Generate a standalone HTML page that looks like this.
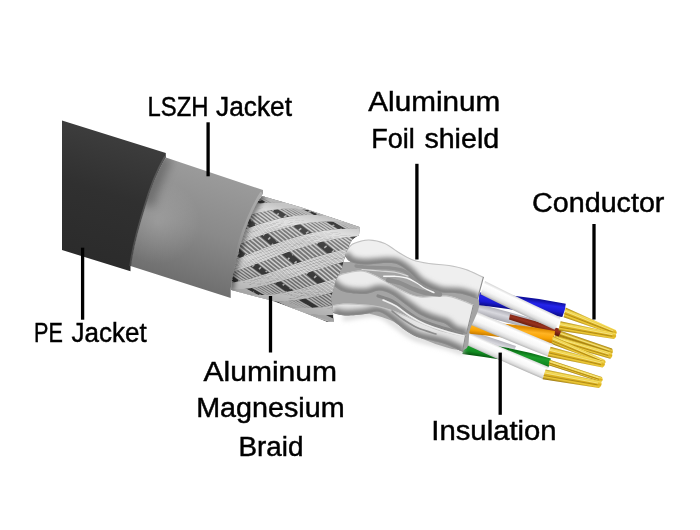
<!DOCTYPE html>
<html><head><meta charset="utf-8"><title>Cable structure</title>
<style>
html,body{margin:0;padding:0;background:#fff;}
body{width:700px;height:530px;overflow:hidden;font-family:"Liberation Sans",sans-serif;}
svg{display:block}
</style></head><body>
<svg width="700" height="530" viewBox="0 0 700 530">
<defs>
<linearGradient id="gPE" gradientUnits="userSpaceOnUse" x1="100" y1="130" x2="62" y2="255">
<stop offset="0" stop-color="#3d3d3d"/><stop offset="0.45" stop-color="#303030"/><stop offset="1" stop-color="#2b2b2b"/></linearGradient>
<linearGradient id="gLS" gradientUnits="userSpaceOnUse" x1="225" y1="172" x2="185" y2="290">
<stop offset="0" stop-color="#9c9c9c"/><stop offset="0.5" stop-color="#8a8a8a"/><stop offset="1" stop-color="#6c6c6c"/></linearGradient>
<linearGradient id="gs1" gradientUnits="userSpaceOnUse" x1="585.0" y1="339.0" x2="582.7" y2="345.7"><stop offset="0" stop-color="#a07c0e"/><stop offset="0.3" stop-color="#e8c840"/><stop offset="0.6" stop-color="#c8a018"/><stop offset="1" stop-color="#806008"/></linearGradient>
<linearGradient id="gs2" gradientUnits="userSpaceOnUse" x1="583.9" y1="343.4" x2="581.7" y2="351.0"><stop offset="0" stop-color="#b08a10"/><stop offset="0.22" stop-color="#f6de5c"/><stop offset="0.5" stop-color="#dcb01c"/><stop offset="0.75" stop-color="#ecc838"/><stop offset="1" stop-color="#94700a"/></linearGradient>
<linearGradient id="gw3" gradientUnits="userSpaceOnUse" x1="507.4" y1="312.1" x2="504.6" y2="322.4"><stop offset="0" stop-color="#b4b4bc"/><stop offset="0.4" stop-color="#d8d8de"/><stop offset="1" stop-color="#a4a4ac"/></linearGradient>
<linearGradient id="gw4" gradientUnits="userSpaceOnUse" x1="535.8" y1="321.2" x2="533.5" y2="328.5"><stop offset="0" stop-color="#7a2412"/><stop offset="0.4" stop-color="#98321e"/><stop offset="1" stop-color="#5a180a"/></linearGradient>
<linearGradient id="gw5" gradientUnits="userSpaceOnUse" x1="492.4" y1="338.3" x2="489.1" y2="348.5"><stop offset="0" stop-color="#b4b4bc"/><stop offset="0.4" stop-color="#d8d8de"/><stop offset="1" stop-color="#a4a4ac"/></linearGradient>
<linearGradient id="gw6" gradientUnits="userSpaceOnUse" x1="522.3" y1="297.9" x2="520.5" y2="311.3"><stop offset="0" stop-color="#1010a0"/><stop offset="0.3" stop-color="#2424ea"/><stop offset="0.65" stop-color="#1a1ad0"/><stop offset="1" stop-color="#0a0a7a"/></linearGradient>
<linearGradient id="gs7" gradientUnits="userSpaceOnUse" x1="591.7" y1="317.9" x2="588.2" y2="327.0"><stop offset="0" stop-color="#b08a10"/><stop offset="0.22" stop-color="#f6de5c"/><stop offset="0.5" stop-color="#dcb01c"/><stop offset="0.75" stop-color="#ecc838"/><stop offset="1" stop-color="#94700a"/></linearGradient>
<linearGradient id="gw8" gradientUnits="userSpaceOnUse" x1="523.1" y1="299.3" x2="517.1" y2="311.8"><stop offset="0" stop-color="#d4d4d4"/><stop offset="0.22" stop-color="#ffffff"/><stop offset="0.6" stop-color="#f6f6f6"/><stop offset="0.85" stop-color="#dcdcdc"/><stop offset="1" stop-color="#b4b4b4"/></linearGradient>
<linearGradient id="gs9" gradientUnits="userSpaceOnUse" x1="587.9" y1="326.3" x2="586.2" y2="335.7"><stop offset="0" stop-color="#b08a10"/><stop offset="0.22" stop-color="#f6de5c"/><stop offset="0.5" stop-color="#dcb01c"/><stop offset="0.75" stop-color="#ecc838"/><stop offset="1" stop-color="#94700a"/></linearGradient>
<linearGradient id="gw10" gradientUnits="userSpaceOnUse" x1="511.8" y1="326.1" x2="510.4" y2="338.6"><stop offset="0" stop-color="#e08c00"/><stop offset="0.3" stop-color="#ffb424"/><stop offset="0.65" stop-color="#f9a406"/><stop offset="1" stop-color="#c47800"/></linearGradient>
<linearGradient id="gs11" gradientUnits="userSpaceOnUse" x1="579.8" y1="347.2" x2="576.7" y2="354.5"><stop offset="0" stop-color="#b08a10"/><stop offset="0.22" stop-color="#f6de5c"/><stop offset="0.5" stop-color="#dcb01c"/><stop offset="0.75" stop-color="#ecc838"/><stop offset="1" stop-color="#94700a"/></linearGradient>
<linearGradient id="gw12" gradientUnits="userSpaceOnUse" x1="514.3" y1="327.3" x2="508.7" y2="340.7"><stop offset="0" stop-color="#d4d4d4"/><stop offset="0.22" stop-color="#ffffff"/><stop offset="0.6" stop-color="#f6f6f6"/><stop offset="0.85" stop-color="#dcdcdc"/><stop offset="1" stop-color="#b4b4b4"/></linearGradient>
<linearGradient id="gs13" gradientUnits="userSpaceOnUse" x1="577.4" y1="353.1" x2="575.1" y2="363.1"><stop offset="0" stop-color="#b08a10"/><stop offset="0.22" stop-color="#f6de5c"/><stop offset="0.5" stop-color="#dcb01c"/><stop offset="0.75" stop-color="#ecc838"/><stop offset="1" stop-color="#94700a"/></linearGradient>
<linearGradient id="gw14" gradientUnits="userSpaceOnUse" x1="507.7" y1="349.2" x2="505.6" y2="361.5"><stop offset="0" stop-color="#0a7016"/><stop offset="0.3" stop-color="#1c9c2c"/><stop offset="0.65" stop-color="#128c22"/><stop offset="1" stop-color="#06500e"/></linearGradient>
<linearGradient id="gs15" gradientUnits="userSpaceOnUse" x1="576.1" y1="368.4" x2="574.4" y2="373.6"><stop offset="0" stop-color="#b08a10"/><stop offset="0.22" stop-color="#f6de5c"/><stop offset="0.5" stop-color="#dcb01c"/><stop offset="0.75" stop-color="#ecc838"/><stop offset="1" stop-color="#94700a"/></linearGradient>
<linearGradient id="gw16" gradientUnits="userSpaceOnUse" x1="509.0" y1="349.7" x2="503.7" y2="361.9"><stop offset="0" stop-color="#d4d4d4"/><stop offset="0.22" stop-color="#ffffff"/><stop offset="0.6" stop-color="#f6f6f6"/><stop offset="0.85" stop-color="#dcdcdc"/><stop offset="1" stop-color="#b4b4b4"/></linearGradient>
<linearGradient id="gs17" gradientUnits="userSpaceOnUse" x1="573.0" y1="374.4" x2="571.1" y2="384.4"><stop offset="0" stop-color="#b08a10"/><stop offset="0.22" stop-color="#f6de5c"/><stop offset="0.5" stop-color="#dcb01c"/><stop offset="0.75" stop-color="#ecc838"/><stop offset="1" stop-color="#94700a"/></linearGradient>
<filter id="blur3" filterUnits="userSpaceOnUse" x="200" y="150" width="320" height="240"><feGaussianBlur stdDeviation="2.6"/></filter>
<filter id="blur1" filterUnits="userSpaceOnUse" x="200" y="150" width="320" height="240"><feGaussianBlur stdDeviation="0.7"/></filter>
<filter id="blur6" filterUnits="userSpaceOnUse" x="200" y="150" width="320" height="240"><feGaussianBlur stdDeviation="4"/></filter>
<clipPath id="cF3"><path d="M333.0,305.0 C335.0,304.8 339.7,303.6 345.0,303.5 C350.3,303.4 359.2,304.0 365.0,304.5 C370.8,305.0 374.2,305.1 380.0,306.5 C385.8,307.9 393.3,310.4 400.0,313.0 C406.7,315.6 413.3,319.2 420.0,322.0 C426.7,324.8 432.3,327.7 440.0,330.0 C447.7,332.3 461.7,335.0 466.0,336.0 L463.0,352.0 C460.0,350.7 451.3,346.2 445.0,344.0 C438.7,341.8 430.0,340.3 425.0,339.0 C420.0,337.7 418.3,337.5 415.0,336.0 C411.7,334.5 408.3,332.3 405.0,330.0 C401.7,327.7 398.3,324.6 395.0,322.0 C391.7,319.4 388.0,316.2 385.0,314.5 C382.0,312.8 380.3,311.6 377.0,311.5 C373.7,311.4 370.3,313.3 365.0,314.0 C359.7,314.7 350.3,315.7 345.0,315.5 C339.7,315.3 335.0,313.4 333.0,313.0 Z"/></clipPath>
<clipPath id="cF2"><path d="M331.0,281.0 C332.2,280.1 335.7,276.8 338.0,275.5 C340.3,274.2 341.2,273.8 345.0,273.0 C348.8,272.2 356.0,270.2 361.0,270.5 C366.0,270.8 370.3,272.9 375.0,275.0 C379.7,277.1 384.0,280.2 389.0,283.0 C394.0,285.8 399.8,289.2 405.0,291.5 C410.2,293.8 413.2,295.8 420.0,296.5 C426.8,297.2 439.0,294.9 446.0,295.5 C453.0,296.1 457.3,298.4 462.0,300.0 C466.7,301.6 472.0,304.2 474.0,305.0 L467.0,334.0 C465.0,333.5 458.7,332.8 455.0,331.0 C451.3,329.2 448.7,325.3 445.0,323.5 C441.3,321.7 437.3,321.6 433.0,320.0 C428.7,318.4 423.7,316.7 419.0,314.0 C414.3,311.3 409.7,307.3 405.0,304.0 C400.3,300.7 395.3,296.2 391.0,294.0 C386.7,291.8 383.3,290.5 379.0,290.5 C374.7,290.5 370.7,293.8 365.0,294.0 C359.3,294.2 350.0,293.2 345.0,292.0 C340.0,290.8 337.3,288.3 335.0,286.5 C332.7,284.7 331.7,281.9 331.0,281.0 Z"/></clipPath>
<clipPath id="cF1"><path d="M344.0,255.0 C344.8,253.6 347.2,248.6 349.0,246.5 C350.8,244.4 351.7,243.7 355.0,242.5 C358.3,241.3 364.0,239.4 369.0,239.5 C374.0,239.6 380.0,240.9 385.0,243.0 C390.0,245.1 394.3,249.2 399.0,252.0 C403.7,254.8 408.0,257.7 413.0,259.5 C418.0,261.3 423.0,262.1 429.0,263.0 C435.0,263.9 442.8,264.0 449.0,265.0 C455.2,266.0 460.2,267.0 466.0,269.0 C471.8,271.0 481.0,275.7 484.0,277.0 L478.0,299.0 C475.0,298.1 466.3,294.7 460.0,293.5 C453.7,292.3 446.5,293.7 440.0,292.0 C433.5,290.3 426.2,286.8 421.0,283.5 C415.8,280.2 413.0,275.2 409.0,272.0 C405.0,268.8 401.0,265.5 397.0,264.0 C393.0,262.5 390.3,262.9 385.0,263.0 C379.7,263.1 370.7,264.7 365.0,264.5 C359.3,264.3 354.5,263.6 351.0,262.0 C347.5,260.4 345.2,256.2 344.0,255.0 Z"/></clipPath>
<clipPath id="cBraid"><path d="M262.0,196.0 L300.0,207.0 L359.5,227.0 L359.0,235.0 L352.0,240.0 L346.0,252.0 L342.0,268.0 L336.0,280.0 L331.0,298.0 L333.0,314.0 L334.0,322.0 L327.0,322.0 L300.0,311.0 L270.0,300.0 L231.0,290.0 L232.0,278.0 L236.0,260.0 L241.0,242.0 L247.0,223.0 L255.0,205.0Z"/></clipPath>
<linearGradient id="gBrSh" gradientUnits="userSpaceOnUse" x1="305" y1="212" x2="280" y2="305">
<stop offset="0" stop-color="#000" stop-opacity="0.12"/><stop offset="0.15" stop-color="#fff" stop-opacity="0.08"/>
<stop offset="0.6" stop-color="#000" stop-opacity="0"/><stop offset="1" stop-color="#000" stop-opacity="0.22"/></linearGradient>
<radialGradient id="gLSh" gradientUnits="userSpaceOnUse" cx="158" cy="222" r="42"><stop offset="0" stop-color="#fff" stop-opacity="0.16"/><stop offset="1" stop-color="#fff" stop-opacity="0"/></radialGradient>
<clipPath id="cLS"><path d="M165.8,157.5 L263,190 L263,193.8 C255,205 247,223 241,242 C236,260 231.5,280 230.7,290 L230.7,298 L130.5,266 C133,248 139,226 145,207 C150,190 158,170 165.8,157.5 Z"/></clipPath>
<filter id="blurLS" filterUnits="userSpaceOnUse" x="100" y="110" width="160" height="160"><feGaussianBlur stdDeviation="5"/></filter>
<linearGradient id="gRim" gradientUnits="userSpaceOnUse" x1="262" y1="192" x2="236" y2="262"><stop offset="0" stop-color="#b0b0b0"/><stop offset="0.6" stop-color="#a0a0a0" stop-opacity="0.8"/><stop offset="1" stop-color="#909090" stop-opacity="0"/></linearGradient>
<linearGradient id="gRimP" gradientUnits="userSpaceOnUse" x1="165" y1="156" x2="131" y2="268"><stop offset="0" stop-color="#5a5a5a"/><stop offset="1" stop-color="#484848"/></linearGradient>
</defs>
<rect width="700" height="530" fill="#fff"/>
<path d="M62,120.5 L165.8,153 L165.8,157.5 C158,170 150,190 145,207 C139,226 133,248 130.5,265 L130.5,271.3 L62,250 Z" fill="url(#gPE)"/>
<path d="M557.5,329.8 L612.0,348.6 Q614.3,352.5 611.0,354.5 L555.0,336.5 Z" fill="url(#gs1)"/>
<path d="M556.6,332.2 L609.4,350.0" stroke="#fbf0a0" stroke-width="0.7" fill="none"/>
<path d="M556.0,334.0 L609.2,351.5" stroke="#8e6c0e" stroke-width="0.6" fill="none"/>
<path d="M556.0,335.0 L611.5,352.5 Q613.7,356.5 610.2,358.8 L553.5,342.5 Z" fill="url(#gs2)"/>
<path d="M555.1,337.7 L608.8,354.1" stroke="#fbf0a0" stroke-width="0.7" fill="none"/>
<path d="M554.5,339.6 L608.4,355.7" stroke="#8e6c0e" stroke-width="0.6" fill="none"/>
<path d="M476.0,303.5 Q508.3,311.3 540.0,321.0 L536.0,331.0 Q504.3,321.3 472.0,313.5 Z" fill="url(#gw3)"/>
<path d="M510.0,314.2 Q535.8,320.7 561.0,329.2 Q561.3,333.3 558.6,336.5 Q534.1,327.0 509.0,319.5 Z" fill="url(#gw4)"/>
<path d="M469.0,331.0 Q492.7,337.7 516.0,346.0 L512.0,356.0 Q489.2,347.5 466.0,340.5 Z" fill="url(#gw5)"/>
<path d="M479.5,292.6 Q523.1,295.2 565.8,303.8 Q565.4,310.6 562.3,317.0 Q520.2,310.4 478.0,305.0 Z" fill="url(#gw6)"/>
<path d="M565.6,307.6 L615.8,330.0 Q618.1,333.6 614.8,335.0 L563.6,317.3 Z" fill="url(#gs7)"/>
<path d="M564.9,311.1 L613.4,331.0" stroke="#fbf0a0" stroke-width="0.7" fill="none"/>
<path d="M564.4,313.6 L613.1,332.3" stroke="#8e6c0e" stroke-width="0.6" fill="none"/>
<path d="M485.0,281.0 Q522.3,299.8 560.3,317.2 Q558.9,324.2 554.6,329.8 Q517.2,312.7 480.5,294.2 Z" fill="url(#gw8)"/>
<path d="M560.6,321.3 L615.3,333.0 Q617.6,336.5 614.0,339.0 L558.4,330.6 Z" fill="url(#gs9)"/>
<path d="M559.8,324.6 L612.6,334.7" stroke="#fbf0a0" stroke-width="0.7" fill="none"/>
<path d="M559.2,327.1 L612.3,336.3" stroke="#8e6c0e" stroke-width="0.6" fill="none"/>
<path d="M470.0,321.5 Q512.9,322.7 555.0,331.0 Q555.0,337.4 552.2,343.4 Q509.8,337.9 467.3,333.5 Z" fill="url(#gw10)"/>
<path d="M553.0,336.0 L604.6,359.8 Q607.0,362.8 603.8,363.5 L551.5,344.0 Z" fill="url(#gs11)"/>
<path d="M552.5,338.9 L602.2,360.2" stroke="#fbf0a0" stroke-width="0.7" fill="none"/>
<path d="M552.1,341.0 L602.0,361.2" stroke="#8e6c0e" stroke-width="0.6" fill="none"/>
<path d="M474.0,310.5 Q513.4,327.9 553.3,344.2 Q552.4,351.1 548.6,356.8 Q509.1,341.3 470.0,324.6 Z" fill="url(#gw12)"/>
<path d="M550.6,346.8 L604.2,361.5 Q606.3,365.1 602.6,367.4 L547.6,356.6 Z" fill="url(#gs13)"/>
<path d="M549.5,350.3 L601.5,363.1" stroke="#fbf0a0" stroke-width="0.7" fill="none"/>
<path d="M548.7,352.9 L601.0,364.7" stroke="#8e6c0e" stroke-width="0.6" fill="none"/>
<path d="M465.0,341.8 Q508.7,345.8 550.8,358.4 Q550.8,363.0 548.4,367.2 Q505.5,359.8 462.3,354.0 Z" fill="url(#gw14)"/>
<path d="M549.8,359.8 L601.8,377.0 Q604.2,380.4 600.8,382.0 L548.6,365.2 Z" fill="url(#gs15)"/>
<path d="M549.4,361.7 L599.4,378.1" stroke="#fbf0a0" stroke-width="0.7" fill="none"/>
<path d="M549.1,363.1 L599.1,379.4" stroke="#8e6c0e" stroke-width="0.6" fill="none"/>
<path d="M469.0,333.2 Q508.4,350.6 548.3,366.8 Q547.4,373.6 543.6,379.2 Q503.8,362.2 464.4,344.0 Z" fill="url(#gw16)"/>
<path d="M545.6,369.4 L601.0,381.0 Q603.0,385.0 599.0,388.0 L542.6,379.2 Z" fill="url(#gs17)"/>
<path d="M544.5,372.9 L598.0,383.1" stroke="#fbf0a0" stroke-width="0.7" fill="none"/>
<path d="M543.7,375.5 L597.5,384.9" stroke="#8e6c0e" stroke-width="0.6" fill="none"/>
<path d="M345.0,318.0 C350.3,317.3 368.7,312.8 377.0,314.0 C385.3,315.2 388.7,321.0 395.0,325.0 C401.3,329.0 406.7,334.5 415.0,338.0 C423.3,341.5 437.2,343.7 445.0,346.0 C452.8,348.3 459.2,351.0 462.0,352.0" fill="none" stroke="#d6d6d6" stroke-width="5" stroke-linecap="round" filter="url(#blur3)"/>
<path d="M340.0,262.0 C343.3,262.0 350.0,262.0 360.0,262.0 C370.0,262.0 386.7,257.7 400.0,262.0 C413.3,266.3 427.0,281.8 440.0,288.0 C453.0,294.2 473.0,292.0 478.0,299.0 C483.0,306.0 472.5,321.5 470.0,330.0 C467.5,338.5 471.3,348.7 463.0,350.0 C454.7,351.3 432.2,343.0 420.0,338.0 C407.8,333.0 400.0,324.3 390.0,320.0 C380.0,315.7 369.3,313.7 360.0,312.0 C350.7,310.3 338.8,314.5 334.0,310.0 C329.2,305.5 331.5,289.2 331.0,285.0 Z" fill="#a4a4a4"/>
<g clip-path="url(#cF3)">
<path d="M333.0,305.0 C335.0,304.8 339.7,303.6 345.0,303.5 C350.3,303.4 359.2,304.0 365.0,304.5 C370.8,305.0 374.2,305.1 380.0,306.5 C385.8,307.9 393.3,310.4 400.0,313.0 C406.7,315.6 413.3,319.2 420.0,322.0 C426.7,324.8 432.3,327.7 440.0,330.0 C447.7,332.3 461.7,335.0 466.0,336.0 L463.0,352.0 C460.0,350.7 451.3,346.2 445.0,344.0 C438.7,341.8 430.0,340.3 425.0,339.0 C420.0,337.7 418.3,337.5 415.0,336.0 C411.7,334.5 408.3,332.3 405.0,330.0 C401.7,327.7 398.3,324.6 395.0,322.0 C391.7,319.4 388.0,316.2 385.0,314.5 C382.0,312.8 380.3,311.6 377.0,311.5 C373.7,311.4 370.3,313.3 365.0,314.0 C359.7,314.7 350.3,315.7 345.0,315.5 C339.7,315.3 335.0,313.4 333.0,313.0 Z" fill="#e6e6e6"/>
<path d="M463.0,352.0 C460.0,350.7 451.3,346.2 445.0,344.0 C438.7,341.8 430.0,340.3 425.0,339.0 C420.0,337.7 418.3,337.5 415.0,336.0 C411.7,334.5 408.3,332.3 405.0,330.0 C401.7,327.7 398.3,324.6 395.0,322.0 C391.7,319.4 388.0,316.2 385.0,314.5 C382.0,312.8 380.3,311.6 377.0,311.5 C373.7,311.4 370.3,313.3 365.0,314.0 C359.7,314.7 350.3,315.7 345.0,315.5 C339.7,315.3 335.0,313.4 333.0,313.0" fill="none" stroke="#808080" stroke-width="11" filter="url(#blur3)"/>
<path d="M463.0,352.0 C460.0,350.7 451.3,346.2 445.0,344.0 C438.7,341.8 430.0,340.3 425.0,339.0 C420.0,337.7 418.3,337.5 415.0,336.0 C411.7,334.5 408.3,332.3 405.0,330.0 C401.7,327.7 398.3,324.6 395.0,322.0 C391.7,319.4 388.0,316.2 385.0,314.5 C382.0,312.8 380.3,311.6 377.0,311.5 C373.7,311.4 370.3,313.3 365.0,314.0 C359.7,314.7 350.3,315.7 345.0,315.5 C339.7,315.3 335.0,313.4 333.0,313.0" fill="none" stroke="#8a8a8a" stroke-width="2" filter="url(#blur1)"/>
<path d="M333.0,305.0 C335.0,304.8 339.7,303.6 345.0,303.5 C350.3,303.4 359.2,304.0 365.0,304.5 C370.8,305.0 374.2,305.1 380.0,306.5 C385.8,307.9 393.3,310.4 400.0,313.0 C406.7,315.6 413.3,319.2 420.0,322.0 C426.7,324.8 432.3,327.7 440.0,330.0 C447.7,332.3 461.7,335.0 466.0,336.0" fill="none" stroke="#c2c2c2" stroke-width="2.2" filter="url(#blur1)"/>
<path d="M466.0,336.0 L463.0,352.0" fill="none" stroke="#8e8e8e" stroke-width="2.2" filter="url(#blur1)"/>
</g>
<path d="M378.0,296.0 C380.3,296.8 387.3,298.5 392.0,301.0 C396.7,303.5 401.3,307.8 406.0,311.0 C410.7,314.2 414.3,317.3 420.0,320.0 C425.7,322.7 433.0,324.8 440.0,327.0 C447.0,329.2 458.3,332.0 462.0,333.0" fill="none" stroke="#868686" stroke-width="3.2" stroke-linecap="round" filter="url(#blur1)"/>
<path d="M383.0,300.0 C385.2,301.0 391.5,303.3 396.0,306.0 C400.5,308.7 405.2,313.0 410.0,316.0 C414.8,319.0 419.2,321.5 425.0,324.0 C430.8,326.5 438.5,329.0 445.0,331.0 C451.5,333.0 460.8,335.2 464.0,336.0" fill="none" stroke="#eeeeee" stroke-width="1.6" stroke-linecap="round" filter="url(#blur1)"/>
<path d="M392.0,311.0 C394.0,312.5 399.7,317.2 404.0,320.0 C408.3,322.8 412.7,325.7 418.0,328.0 C423.3,330.3 433.0,333.0 436.0,334.0" fill="none" stroke="#8c8c8c" stroke-width="1.6" stroke-linecap="round" filter="url(#blur1)"/>
<g clip-path="url(#cF2)">
<path d="M331.0,281.0 C332.2,280.1 335.7,276.8 338.0,275.5 C340.3,274.2 341.2,273.8 345.0,273.0 C348.8,272.2 356.0,270.2 361.0,270.5 C366.0,270.8 370.3,272.9 375.0,275.0 C379.7,277.1 384.0,280.2 389.0,283.0 C394.0,285.8 399.8,289.2 405.0,291.5 C410.2,293.8 413.2,295.8 420.0,296.5 C426.8,297.2 439.0,294.9 446.0,295.5 C453.0,296.1 457.3,298.4 462.0,300.0 C466.7,301.6 472.0,304.2 474.0,305.0 L467.0,334.0 C465.0,333.5 458.7,332.8 455.0,331.0 C451.3,329.2 448.7,325.3 445.0,323.5 C441.3,321.7 437.3,321.6 433.0,320.0 C428.7,318.4 423.7,316.7 419.0,314.0 C414.3,311.3 409.7,307.3 405.0,304.0 C400.3,300.7 395.3,296.2 391.0,294.0 C386.7,291.8 383.3,290.5 379.0,290.5 C374.7,290.5 370.7,293.8 365.0,294.0 C359.3,294.2 350.0,293.2 345.0,292.0 C340.0,290.8 337.3,288.3 335.0,286.5 C332.7,284.7 331.7,281.9 331.0,281.0 Z" fill="#ececec"/>
<path d="M467.0,334.0 C465.0,333.5 458.7,332.8 455.0,331.0 C451.3,329.2 448.7,325.3 445.0,323.5 C441.3,321.7 437.3,321.6 433.0,320.0 C428.7,318.4 423.7,316.7 419.0,314.0 C414.3,311.3 409.7,307.3 405.0,304.0 C400.3,300.7 395.3,296.2 391.0,294.0 C386.7,291.8 383.3,290.5 379.0,290.5 C374.7,290.5 370.7,293.8 365.0,294.0 C359.3,294.2 350.0,293.2 345.0,292.0 C340.0,290.8 337.3,288.3 335.0,286.5 C332.7,284.7 331.7,281.9 331.0,281.0" fill="none" stroke="#808080" stroke-width="11" filter="url(#blur3)"/>
<path d="M467.0,334.0 C465.0,333.5 458.7,332.8 455.0,331.0 C451.3,329.2 448.7,325.3 445.0,323.5 C441.3,321.7 437.3,321.6 433.0,320.0 C428.7,318.4 423.7,316.7 419.0,314.0 C414.3,311.3 409.7,307.3 405.0,304.0 C400.3,300.7 395.3,296.2 391.0,294.0 C386.7,291.8 383.3,290.5 379.0,290.5 C374.7,290.5 370.7,293.8 365.0,294.0 C359.3,294.2 350.0,293.2 345.0,292.0 C340.0,290.8 337.3,288.3 335.0,286.5 C332.7,284.7 331.7,281.9 331.0,281.0" fill="none" stroke="#8a8a8a" stroke-width="2" filter="url(#blur1)"/>
<path d="M331.0,281.0 C332.2,280.1 335.7,276.8 338.0,275.5 C340.3,274.2 341.2,273.8 345.0,273.0 C348.8,272.2 356.0,270.2 361.0,270.5 C366.0,270.8 370.3,272.9 375.0,275.0 C379.7,277.1 384.0,280.2 389.0,283.0 C394.0,285.8 399.8,289.2 405.0,291.5 C410.2,293.8 413.2,295.8 420.0,296.5 C426.8,297.2 439.0,294.9 446.0,295.5 C453.0,296.1 457.3,298.4 462.0,300.0 C466.7,301.6 472.0,304.2 474.0,305.0" fill="none" stroke="#c2c2c2" stroke-width="2.2" filter="url(#blur1)"/>
<path d="M474.0,305.0 L467.0,334.0" fill="none" stroke="#8e8e8e" stroke-width="2.2" filter="url(#blur1)"/>
</g>
<path d="M356.0,266.0 C358.7,266.2 366.3,267.2 372.0,267.5 C377.7,267.8 384.7,267.4 390.0,268.0 C395.3,268.6 399.8,269.0 404.0,271.0 C408.2,273.0 411.3,277.2 415.0,280.0 C418.7,282.8 421.8,285.8 426.0,288.0 C430.2,290.2 437.7,292.2 440.0,293.0" fill="none" stroke="#909090" stroke-width="3.4" stroke-linecap="round" filter="url(#blur1)"/>
<path d="M362.0,269.5 C365.0,269.8 374.3,270.5 380.0,271.0 C385.7,271.5 391.3,271.7 396.0,272.5 C400.7,273.3 406.0,275.4 408.0,276.0" fill="none" stroke="#d8d8d8" stroke-width="1.2" stroke-linecap="round" filter="url(#blur1)"/>
<path d="M388.0,280.0 C390.0,280.5 396.0,281.6 400.0,283.0 C404.0,284.4 408.0,286.9 412.0,288.5 C416.0,290.1 419.3,291.5 424.0,292.5 C428.7,293.5 437.3,294.2 440.0,294.5" fill="none" stroke="#8e8e8e" stroke-width="4.5" stroke-linecap="round" filter="url(#blur1)"/>
<path d="M383.7,276.3 C385.6,276.3 391.2,276.0 395.0,276.3 C398.8,276.6 403.1,276.9 406.7,278.0 C410.3,279.1 413.6,281.2 416.7,283.0 C419.8,284.8 422.1,286.9 425.0,288.5 C427.9,290.1 432.5,291.9 434.0,292.6" fill="none" stroke="#f6f6f6" stroke-width="1.4" stroke-linecap="round" filter="url(#blur1)"/>
<g clip-path="url(#cF1)">
<path d="M344.0,255.0 C344.8,253.6 347.2,248.6 349.0,246.5 C350.8,244.4 351.7,243.7 355.0,242.5 C358.3,241.3 364.0,239.4 369.0,239.5 C374.0,239.6 380.0,240.9 385.0,243.0 C390.0,245.1 394.3,249.2 399.0,252.0 C403.7,254.8 408.0,257.7 413.0,259.5 C418.0,261.3 423.0,262.1 429.0,263.0 C435.0,263.9 442.8,264.0 449.0,265.0 C455.2,266.0 460.2,267.0 466.0,269.0 C471.8,271.0 481.0,275.7 484.0,277.0 L478.0,299.0 C475.0,298.1 466.3,294.7 460.0,293.5 C453.7,292.3 446.5,293.7 440.0,292.0 C433.5,290.3 426.2,286.8 421.0,283.5 C415.8,280.2 413.0,275.2 409.0,272.0 C405.0,268.8 401.0,265.5 397.0,264.0 C393.0,262.5 390.3,262.9 385.0,263.0 C379.7,263.1 370.7,264.7 365.0,264.5 C359.3,264.3 354.5,263.6 351.0,262.0 C347.5,260.4 345.2,256.2 344.0,255.0 Z" fill="#efefef"/>
<path d="M478.0,299.0 C475.0,298.1 466.3,294.7 460.0,293.5 C453.7,292.3 446.5,293.7 440.0,292.0 C433.5,290.3 426.2,286.8 421.0,283.5 C415.8,280.2 413.0,275.2 409.0,272.0 C405.0,268.8 401.0,265.5 397.0,264.0 C393.0,262.5 390.3,262.9 385.0,263.0 C379.7,263.1 370.7,264.7 365.0,264.5 C359.3,264.3 354.5,263.6 351.0,262.0 C347.5,260.4 345.2,256.2 344.0,255.0" fill="none" stroke="#808080" stroke-width="11" filter="url(#blur3)"/>
<path d="M478.0,299.0 C475.0,298.1 466.3,294.7 460.0,293.5 C453.7,292.3 446.5,293.7 440.0,292.0 C433.5,290.3 426.2,286.8 421.0,283.5 C415.8,280.2 413.0,275.2 409.0,272.0 C405.0,268.8 401.0,265.5 397.0,264.0 C393.0,262.5 390.3,262.9 385.0,263.0 C379.7,263.1 370.7,264.7 365.0,264.5 C359.3,264.3 354.5,263.6 351.0,262.0 C347.5,260.4 345.2,256.2 344.0,255.0" fill="none" stroke="#8a8a8a" stroke-width="2" filter="url(#blur1)"/>
<path d="M344.0,255.0 C344.8,253.6 347.2,248.6 349.0,246.5 C350.8,244.4 351.7,243.7 355.0,242.5 C358.3,241.3 364.0,239.4 369.0,239.5 C374.0,239.6 380.0,240.9 385.0,243.0 C390.0,245.1 394.3,249.2 399.0,252.0 C403.7,254.8 408.0,257.7 413.0,259.5 C418.0,261.3 423.0,262.1 429.0,263.0 C435.0,263.9 442.8,264.0 449.0,265.0 C455.2,266.0 460.2,267.0 466.0,269.0 C471.8,271.0 481.0,275.7 484.0,277.0" fill="none" stroke="#c2c2c2" stroke-width="2.2" filter="url(#blur1)"/>
<path d="M484.0,277.0 L478.0,299.0" fill="none" stroke="#8e8e8e" stroke-width="2.2" filter="url(#blur1)"/>
</g>
<g clip-path="url(#cBraid)">
<path d="M262.0,196.0 L300.0,207.0 L359.5,227.0 L359.0,235.0 L352.0,240.0 L346.0,252.0 L342.0,268.0 L336.0,280.0 L331.0,298.0 L333.0,314.0 L334.0,322.0 L327.0,322.0 L300.0,311.0 L270.0,300.0 L231.0,290.0 L232.0,278.0 L236.0,260.0 L241.0,242.0 L247.0,223.0 L255.0,205.0Z" fill="#3c3c3c"/>
<path d="M274.0,303.7 L275.6,304.1 L277.3,304.1 L279.2,303.8 L281.2,303.1 L283.3,302.2 L285.5,301.0 L287.8,299.6 L290.2,297.9 L292.8,296.0 L295.4,294.0 L298.1,291.8 L300.9,289.4 L303.7,287.0 L306.7,284.4 L309.6,281.8 L312.7,279.1 L315.7,276.4 L318.9,273.7 L322.0,271.0 L325.2,268.3 L328.3,265.7 L331.5,263.2 L334.7,260.7 L337.9,258.3 L341.1,256.0 L344.3,253.8 L347.5,251.7 L350.6,249.7 L353.7,247.9 L356.8,246.2 L359.9,244.7 L362.9,243.2 L365.9,242.0 L368.9,240.9 L371.8,239.9 L374.7,239.1 L377.5,238.4" fill="none" stroke="#b4b4b4" stroke-width="1.6" stroke-dasharray="3 4"/>
<path d="M265.8,301.1 L267.4,301.5 L269.1,301.6 L270.9,301.4 L272.8,300.8 L274.9,299.9 L277.1,298.6 L279.4,297.1 L281.9,295.4 L284.4,293.4 L287.1,291.2 L289.8,288.9 L292.6,286.4 L295.5,283.7 L298.5,281.0 L301.6,278.2 L304.7,275.4 L307.8,272.5 L311.0,269.6 L314.2,266.7 L317.4,263.9 L320.7,261.1 L323.9,258.4 L327.2,255.8 L330.5,253.3 L333.7,250.9 L337.0,248.6 L340.2,246.4 L343.4,244.4 L346.5,242.6 L349.7,240.9 L352.8,239.4 L355.8,238.0 L358.8,236.8 L361.8,235.8 L364.7,234.9 L367.6,234.2 L370.4,233.7 L373.2,233.3 L375.9,233.1 L378.6,233.0 L381.2,233.1" fill="none" stroke="#b4b4b4" stroke-width="1.6" stroke-dasharray="3 4"/>
<path d="M259.3,299.0 L260.9,299.3 L262.7,299.1 L264.5,298.6 L266.6,297.8 L268.7,296.6 L271.0,295.1 L273.5,293.3 L276.0,291.2 L278.7,289.0 L281.4,286.5 L284.3,283.9 L287.2,281.1 L290.2,278.2 L293.3,275.3 L296.5,272.3 L299.7,269.2 L302.9,266.1 L306.2,263.1 L309.5,260.1 L312.8,257.2 L316.1,254.3 L319.5,251.6 L322.8,248.9 L326.1,246.4 L329.4,244.0 L332.7,241.8 L335.9,239.8 L339.1,237.9 L342.3,236.2 L345.4,234.7 L348.5,233.4 L351.5,232.2 L354.5,231.3 L357.4,230.5 L360.3,229.9 L363.1,229.6 L365.8,229.4 L368.5,229.3 L371.1,229.5 L373.7,229.8 L376.2,230.3 L378.7,230.9 L381.1,231.7" fill="none" stroke="#b4b4b4" stroke-width="1.6" stroke-dasharray="3 4"/>
<path d="M251.3,296.4 L252.8,296.9 L254.5,297.0 L256.3,296.6 L258.3,295.9 L260.4,294.8 L262.6,293.3 L265.0,291.6 L267.5,289.5 L270.1,287.2 L272.9,284.7 L275.8,282.0 L278.7,279.1 L281.8,276.1 L284.9,273.0 L288.1,269.8 L291.3,266.6 L294.6,263.4 L297.9,260.2 L301.3,257.0 L304.7,253.9 L308.1,250.9 L311.5,248.0 L314.8,245.2 L318.2,242.6 L321.6,240.1 L324.9,237.8 L328.2,235.7 L331.4,233.8 L334.6,232.1 L337.8,230.6 L340.9,229.3 L343.9,228.2 L346.9,227.3 L349.8,226.6 L352.7,226.2 L355.5,225.9 L358.2,225.9 L360.9,226.0 L363.5,226.4 L366.0,226.9 L368.5,227.6" fill="none" stroke="#b4b4b4" stroke-width="1.6" stroke-dasharray="3 4"/>
<path d="M244.9,294.4 L246.4,294.8 L248.1,294.7 L250.0,294.1 L252.0,293.2 L254.2,291.9 L256.5,290.2 L259.0,288.2 L261.5,285.9 L264.3,283.4 L267.1,280.6 L270.1,277.6 L273.1,274.5 L276.3,271.3 L279.5,268.0 L282.8,264.6 L286.1,261.2 L289.5,257.9 L292.9,254.5 L296.3,251.3 L299.8,248.1 L303.2,245.1 L306.7,242.1 L310.1,239.4 L313.5,236.8 L316.9,234.4 L320.2,232.2 L323.5,230.2 L326.8,228.5 L329.9,226.9 L333.1,225.6 L336.1,224.6 L339.1,223.7 L342.1,223.1 L344.9,222.8 L347.7,222.7 L350.4,222.8 L353.0,223.1 L355.6,223.6 L358.1,224.3" fill="none" stroke="#b4b4b4" stroke-width="1.6" stroke-dasharray="3 4"/>
<path d="M238.5,292.4 L240.1,292.6 L241.8,292.4 L243.7,291.7 L245.8,290.6 L248.0,289.1 L250.4,287.2 L252.9,285.0 L255.6,282.5 L258.4,279.7 L261.3,276.7 L264.4,273.5 L267.5,270.2 L270.7,266.8 L274.0,263.3 L277.4,259.8 L280.8,256.3 L284.3,252.8 L287.8,249.3 L291.3,246.0 L294.8,242.7 L298.3,239.7 L301.8,236.8 L305.2,234.0 L308.7,231.5 L312.0,229.2 L315.4,227.1 L318.7,225.3 L321.9,223.7 L325.1,222.4 L328.2,221.3 L331.2,220.5 L334.1,220.0 L337.0,219.7 L339.8,219.6 L342.5,219.8 L345.1,220.3 L347.6,221.0" fill="none" stroke="#b4b4b4" stroke-width="1.6" stroke-dasharray="3 4"/>
<path d="M232.2,290.4 L233.7,290.5 L235.5,290.2 L237.4,289.4 L239.5,288.1 L241.8,286.4 L244.2,284.4 L246.8,282.0 L249.6,279.3 L252.5,276.3 L255.5,273.1 L258.6,269.8 L261.8,266.3 L265.1,262.6 L268.5,259.0 L271.9,255.3 L275.4,251.6 L278.9,248.0 L282.5,244.5 L286.1,241.1 L289.6,237.8 L293.2,234.7 L296.7,231.8 L300.2,229.1 L303.6,226.7 L307.0,224.5 L310.4,222.6 L313.7,220.9 L316.9,219.5 L320.0,218.4 L323.0,217.6 L326.0,217.0 L328.9,216.8 L331.7,216.8 L334.4,217.1 L337.0,217.6 L339.5,218.4" fill="none" stroke="#b4b4b4" stroke-width="1.6" stroke-dasharray="3 4"/>
<path d="M225.9,288.4 L227.5,288.5 L229.2,288.0 L231.2,287.1 L233.3,285.8 L235.6,284.0 L238.1,281.8 L240.7,279.2 L243.5,276.3 L246.5,273.2 L249.5,269.8 L252.7,266.3 L256.0,262.6 L259.4,258.8 L262.8,255.0 L266.4,251.2 L269.9,247.4 L273.5,243.7 L277.1,240.1 L280.7,236.6 L284.4,233.3 L287.9,230.2 L291.5,227.3 L295.0,224.7 L298.5,222.3 L301.9,220.2 L305.2,218.4 L308.5,216.9 L311.6,215.7 L314.7,214.8 L317.7,214.3 L320.6,214.0 L323.4,214.0 L326.1,214.4 L328.8,215.0" fill="none" stroke="#b4b4b4" stroke-width="1.6" stroke-dasharray="3 4"/>
<path d="M224.9,285.1 L227.1,283.6 L229.4,281.7 L231.9,279.4 L234.6,276.7 L237.4,273.7 L240.4,270.4 L243.5,266.8 L246.8,263.1 L250.1,259.3 L253.6,255.4 L257.1,251.4 L260.7,247.4 L264.3,243.5 L268.0,239.7 L271.6,236.0 L275.3,232.5 L278.9,229.2 L282.6,226.1 L286.2,223.2 L289.7,220.7 L293.2,218.4 L296.6,216.4 L299.9,214.7 L303.1,213.4 L306.3,212.4 L309.3,211.7 L312.3,211.4 L315.1,211.4 L317.8,211.7 L320.5,212.3" fill="none" stroke="#b4b4b4" stroke-width="1.6" stroke-dasharray="3 4"/>
<path d="M225.7,277.2 L228.4,274.4 L231.3,271.3 L234.3,267.8 L237.5,264.2 L240.8,260.3 L244.2,256.3 L247.7,252.3 L251.2,248.2 L254.9,244.1 L258.6,240.1 L262.3,236.1 L266.0,232.4 L269.7,228.8 L273.4,225.4 L277.1,222.3 L280.7,219.5 L284.2,217.0 L287.7,214.8 L291.1,212.9 L294.4,211.4 L297.6,210.2 L300.7,209.4 L303.7,208.9 L306.6,208.8 L309.4,209.1 L312.1,209.7" fill="none" stroke="#b4b4b4" stroke-width="1.6" stroke-dasharray="3 4"/>
<path d="M228.1,265.6 L231.3,261.8 L234.6,257.9 L238.1,253.7 L241.6,249.5 L245.3,245.3 L249.0,241.1 L252.7,237.0 L256.5,232.9 L260.2,229.1 L264.0,225.5 L267.7,222.1 L271.4,218.9 L275.0,216.1 L278.6,213.6 L282.1,211.5 L285.5,209.7 L288.8,208.3 L292.0,207.3 L295.1,206.6 L298.0,206.4 L300.9,206.5 L303.6,207.0" fill="none" stroke="#b4b4b4" stroke-width="1.6" stroke-dasharray="3 4"/>
<path d="M231.9,251.5 L235.5,247.2 L239.2,242.8 L242.9,238.5 L246.7,234.2 L250.5,230.1 L254.3,226.2 L258.1,222.5 L261.9,219.0 L265.6,215.9 L269.3,213.1 L272.9,210.6 L276.4,208.5 L279.8,206.8 L283.1,205.5 L286.3,204.6 L289.3,204.1 L292.2,204.0 L295.0,204.4 L297.7,205.1" fill="none" stroke="#b4b4b4" stroke-width="1.6" stroke-dasharray="3 4"/>
<path d="M236.8,236.2 L240.6,231.9 L244.5,227.6 L248.3,223.6 L252.2,219.8 L256.0,216.3 L259.7,213.1 L263.4,210.3 L267.0,207.8 L270.5,205.8 L273.9,204.1 L277.2,202.9 L280.4,202.1 L283.4,201.7 L286.3,201.8 L289.1,202.3" fill="none" stroke="#b4b4b4" stroke-width="1.6" stroke-dasharray="3 4"/>
<path d="M242.1,221.4 L246.0,217.5 L249.9,213.9 L253.7,210.7 L257.4,207.8 L261.0,205.3 L264.6,203.2 L268.0,201.6 L271.3,200.5 L274.4,199.8 L277.5,199.5 L280.3,199.7 L283.1,200.4" fill="none" stroke="#b4b4b4" stroke-width="1.6" stroke-dasharray="3 4"/>
<path d="M247.5,208.5 L251.3,205.5 L254.9,203.0 L258.5,200.9 L261.9,199.3 L265.2,198.2 L268.4,197.5 L271.4,197.4 L274.3,197.7 L277.0,198.5" fill="none" stroke="#b4b4b4" stroke-width="1.6" stroke-dasharray="3 4"/>
<path d="M252.3,198.8 L255.8,197.2 L259.1,196.0 L262.3,195.4 L265.3,195.3 L268.1,195.7" fill="none" stroke="#b4b4b4" stroke-width="1.6" stroke-dasharray="3 4"/>
<path d="M256.1,193.4 L259.1,193.3 L262.0,193.7" fill="none" stroke="#b4b4b4" stroke-width="1.6" stroke-dasharray="3 4"/>
<path d="M225.2,287.5 L228.5,288.7 L231.7,289.9 L234.9,291.1 L238.2,292.2 L241.4,293.3 L244.7,294.4 L248.0,295.4 L251.3,296.4 L307.4,314.4 L304.1,313.3 L300.9,312.3 L297.6,311.2 L294.3,310.0 L291.1,308.9 L287.8,307.7 L284.6,306.4 L281.4,305.2 L278.2,303.9 L275.0,302.6 L271.9,301.2 L268.7,299.8 L265.6,298.4 L262.4,296.9 L259.3,295.4 L256.2,293.9 L253.1,292.3 L250.0,290.8 L246.9,289.1 L243.8,287.5 L240.8,285.8 L237.7,284.1 L234.7,282.4 L231.7,280.6 L228.7,278.9 L225.7,277.1Z" fill="#767676"/>
<path d="M225.1,287.1 L228.3,288.4 L231.5,289.6 L234.8,290.8 L238.0,292.0 L241.3,293.2 L244.5,294.3 L247.8,295.4 L251.1,296.4 L254.4,297.4 M225.0,286.2 L228.1,287.5 L231.3,288.9 L234.5,290.2 L237.7,291.4 L241.0,292.7 L244.2,293.9 L247.4,295.1 L250.7,296.2 L253.9,297.3 L257.2,298.4 L260.5,299.4 L263.8,300.4 M224.9,285.0 L228.1,286.4 L231.2,287.9 L234.4,289.3 L237.5,290.6 L240.7,291.9 L243.9,293.2 L247.1,294.5 L250.4,295.7 L253.6,296.9 L256.8,298.1 L260.1,299.2 L263.4,300.3 L266.6,301.4 L269.9,302.4 M224.9,283.6 L228.0,285.1 L231.2,286.6 L234.3,288.1 L237.4,289.6 L240.6,291.0 L243.8,292.4 L246.9,293.7 L250.1,295.0 L253.3,296.3 L256.5,297.6 L259.8,298.8 L263.0,300.0 L266.3,301.1 L269.5,302.2 L272.8,303.3 L276.1,304.4 L279.4,305.4 M225.0,282.0 L228.1,283.6 L231.2,285.2 L234.3,286.8 L237.4,288.3 L240.5,289.8 L243.7,291.3 L246.8,292.7 L250.0,294.1 L253.1,295.5 L256.3,296.8 L259.5,298.1 L262.7,299.4 L265.9,300.6 L269.2,301.8 L272.4,303.0 L275.7,304.2 L278.9,305.3 L282.2,306.3 L285.5,307.4 L288.8,308.4 M225.2,280.2 L228.3,281.9 L231.3,283.5 L234.4,285.2 L237.5,286.8 L240.6,288.4 L243.7,289.9 L246.8,291.4 L249.9,292.9 L253.1,294.4 L256.2,295.8 L259.4,297.2 L262.5,298.6 L265.7,299.9 L268.9,301.2 L272.1,302.5 L275.4,303.7 L278.6,304.9 L281.8,306.1 L285.1,307.2 L288.4,308.3 L291.6,309.3 L294.9,310.4 M225.5,278.1 L228.5,279.9 L231.6,281.7 L234.6,283.4 L237.6,285.1 L240.7,286.7 L243.8,288.4 L246.8,290.0 L249.9,291.5 L253.0,293.1 L256.2,294.6 L259.3,296.1 L262.4,297.5 L265.6,298.9 L268.8,300.3 L271.9,301.7 L275.1,303.0 L278.3,304.3 L281.5,305.5 L284.8,306.8 L288.0,307.9 L291.2,309.1 L294.5,310.2 L297.8,311.3 L301.1,312.3 L304.4,313.4" fill="none" stroke="#d0d0d0" stroke-width="1.45" stroke-linecap="butt"/>
<path d="M226.6,272.4 L229.5,274.3 L232.5,276.2 L235.4,278.1 L238.4,280.0 L241.4,281.8 L244.4,283.6 L247.4,285.4 L250.4,287.2 L253.4,288.9 L256.4,290.6 L259.5,292.3 L262.5,294.0 L265.6,295.6 L268.7,297.2 L271.8,298.7 L274.9,300.3 L278.0,301.8 L281.2,303.2 L284.3,304.7 L287.5,306.1 L290.6,307.4 L293.8,308.8 L297.0,310.1 L300.2,311.4 L303.4,312.6 L306.7,313.8 L309.9,315.0 L313.2,316.1 L316.4,317.2 L319.7,318.3 L323.0,319.3 L326.3,320.3 L350.0,326.4 L346.9,325.1 L343.7,323.7 L340.5,322.2 L337.4,320.8 L334.3,319.3 L331.2,317.8 L328.1,316.2 L325.0,314.6 L321.9,313.0 L318.8,311.4 L315.8,309.7 L312.8,308.0 L309.7,306.3 L306.7,304.5 L303.7,302.7 L300.7,300.9 L297.7,299.1 L294.8,297.2 L291.8,295.3 L288.9,293.4 L285.9,291.5 L283.0,289.5 L280.1,287.5 L277.2,285.5 L274.3,283.5 L271.4,281.5 L268.5,279.4 L265.7,277.3 L262.8,275.2 L260.0,273.1 L257.1,271.0 L254.3,268.9 L251.5,266.7 L248.7,264.5 L245.9,262.3 L243.1,260.1 L240.3,257.9 L237.5,255.7 L234.7,253.5 L232.0,251.3Z" fill="#767676"/>
<path d="M226.8,271.1 L229.8,273.0 L232.7,275.0 L235.6,276.9 L238.6,278.8 L241.6,280.7 L244.5,282.5 L247.5,284.4 L250.5,286.1 L253.5,287.9 L256.6,289.7 L259.6,291.4 L262.6,293.1 L265.7,294.7 L268.8,296.4 L271.8,298.0 L274.9,299.5 L278.0,301.1 L281.2,302.6 L284.3,304.1 L287.4,305.5 L290.6,306.9 L293.8,308.3 L296.9,309.7 L300.1,311.0 L303.3,312.3 L306.5,313.5 L309.8,314.7 L313.0,315.9 L316.3,317.1 L319.5,318.2 L322.8,319.3 L326.1,320.3 L329.4,321.3 M227.4,268.3 L230.3,270.4 L233.2,272.4 L236.2,274.4 L239.1,276.3 L242.0,278.3 L245.0,280.2 L247.9,282.1 L250.9,283.9 L253.9,285.8 L256.9,287.6 L259.9,289.4 L262.9,291.1 L265.9,292.9 L268.9,294.6 L272.0,296.3 L275.0,297.9 L278.1,299.5 L281.2,301.1 L284.3,302.7 L287.4,304.2 L290.5,305.7 L293.7,307.2 L296.8,308.6 L300.0,310.0 L303.1,311.4 L306.3,312.8 L309.5,314.1 L312.7,315.3 L315.9,316.6 L319.2,317.8 L322.4,319.0 L325.7,320.1 L328.9,321.2 L332.2,322.3 L335.5,323.3 L338.8,324.3 M228.1,265.5 L231.0,267.6 L233.9,269.6 L236.7,271.7 L239.6,273.7 L242.5,275.7 L245.5,277.7 L248.4,279.6 L251.3,281.5 L254.3,283.4 L257.2,285.3 L260.2,287.2 L263.2,289.0 L266.2,290.8 L269.2,292.6 L272.2,294.4 L275.2,296.1 L278.3,297.8 L281.3,299.5 L284.4,301.1 L287.5,302.7 L290.6,304.3 L293.7,305.9 L296.8,307.4 L299.9,308.9 L303.1,310.3 L306.2,311.8 L309.4,313.2 L312.5,314.5 L315.7,315.8 L318.9,317.1 L322.1,318.4 L325.3,319.6 L328.6,320.8 L331.8,322.0 L335.1,323.1 L338.4,324.2 L341.6,325.3 L344.9,326.3 M228.9,262.5 L231.7,264.6 L234.6,266.7 L237.4,268.8 L240.3,270.9 L243.2,272.9 L246.1,275.0 L248.9,277.0 L251.9,279.0 L254.8,280.9 L257.7,282.9 L260.7,284.8 L263.6,286.7 L266.6,288.6 L269.5,290.4 L272.5,292.3 L275.5,294.1 L278.5,295.8 L281.6,297.6 L284.6,299.3 L287.6,301.0 L290.7,302.7 L293.8,304.3 L296.8,305.9 L299.9,307.5 L303.0,309.0 L306.2,310.5 L309.3,312.0 L312.4,313.5 L315.6,314.9 L318.8,316.3 L321.9,317.6 L325.1,318.9 L328.3,320.2 L331.5,321.5 L334.8,322.7 L338.0,323.9 L341.2,325.0 L344.5,326.2 L347.8,327.2 L351.1,328.3 M229.7,259.4 L232.5,261.6 L235.3,263.7 L238.2,265.8 L241.0,268.0 L243.8,270.1 L246.7,272.1 L249.6,274.2 L252.5,276.3 L255.4,278.3 L258.3,280.3 L261.2,282.3 L264.1,284.2 L267.0,286.2 L270.0,288.1 L272.9,290.0 L275.9,291.9 L278.9,293.7 L281.9,295.5 L284.9,297.3 L287.9,299.1 L290.9,300.8 L293.9,302.5 L297.0,304.2 L300.1,305.9 L303.1,307.5 L306.2,309.1 L309.3,310.6 L312.4,312.2 L315.5,313.7 L318.7,315.1 L321.8,316.6 L325.0,318.0 L328.1,319.4 L331.3,320.7 L334.5,322.0 L337.7,323.3 L340.9,324.5 L344.2,325.7 L347.4,326.9 L350.7,328.1 M230.6,256.2 L233.4,258.4 L236.2,260.6 L239.0,262.8 L241.8,264.9 L244.6,267.1 L247.4,269.2 L250.3,271.3 L253.1,273.4 L256.0,275.5 L258.9,277.5 L261.8,279.6 L264.7,281.6 L267.6,283.6 L270.5,285.6 L273.4,287.5 L276.3,289.5 L279.3,291.4 L282.3,293.2 L285.2,295.1 L288.2,296.9 L291.2,298.8 L294.2,300.5 L297.2,302.3 L300.3,304.0 L303.3,305.7 L306.3,307.4 L309.4,309.0 L312.5,310.7 L315.6,312.2 L318.7,313.8 L321.8,315.3 L324.9,316.8 L328.1,318.3 L331.2,319.7 L334.4,321.1 L337.5,322.5 L340.7,323.8 L343.9,325.1 L347.1,326.4 L350.3,327.6 M231.5,252.9 L234.3,255.1 L237.0,257.4 L239.8,259.6 L242.6,261.8 L245.4,263.9 L248.2,266.1 L251.1,268.3 L253.9,270.4 L256.7,272.5 L259.6,274.6 L262.4,276.7 L265.3,278.8 L268.2,280.8 L271.1,282.9 L274.0,284.9 L276.9,286.9 L279.8,288.9 L282.7,290.8 L285.7,292.7 L288.6,294.6 L291.6,296.5 L294.6,298.4 L297.5,300.2 L300.5,302.0 L303.5,303.8 L306.6,305.5 L309.6,307.2 L312.6,308.9 L315.7,310.6 L318.8,312.2 L321.8,313.8 L324.9,315.4 L328.0,317.0 L331.2,318.5 L334.3,320.0 L337.4,321.4 L340.6,322.8 L343.7,324.2 L346.9,325.6 L350.1,326.9" fill="none" stroke="#d0d0d0" stroke-width="1.45" stroke-linecap="butt"/>
<path d="M234.0,244.6 L236.7,246.9 L239.5,249.2 L242.2,251.4 L245.0,253.7 L247.7,255.9 L250.5,258.1 L253.2,260.4 L256.0,262.6 L258.8,264.8 L261.6,267.0 L264.4,269.2 L267.2,271.4 L270.0,273.5 L272.8,275.7 L275.7,277.8 L278.5,279.9 L281.3,282.0 L284.2,284.1 L287.1,286.2 L290.0,288.2 L292.9,290.2 L295.8,292.3 L298.7,294.2 L301.6,296.2 L304.5,298.1 L307.5,300.1 L310.4,302.0 L313.4,303.8 L316.4,305.7 L319.4,307.5 L322.4,309.3 L325.4,311.0 L328.4,312.8 L331.4,314.5 L334.5,316.2 L337.6,317.8 L340.6,319.4 L343.7,321.0 L346.8,322.6 L349.9,324.1 L352.2,309.4 L349.3,307.3 L346.4,305.3 L343.5,303.2 L340.7,301.2 L337.8,299.1 L335.0,297.0 L332.1,294.8 L329.3,292.7 L326.5,290.5 L323.7,288.3 L320.9,286.2 L318.1,284.0 L315.3,281.8 L312.5,279.5 L309.8,277.3 L307.0,275.1 L304.3,272.8 L301.5,270.6 L298.8,268.3 L296.0,266.1 L293.3,263.8 L290.6,261.5 L287.9,259.2 L285.2,257.0 L282.5,254.7 L279.8,252.4 L277.1,250.2 L274.4,247.9 L271.7,245.6 L269.0,243.4 L266.3,241.1 L263.6,238.9 L260.9,236.6 L258.3,234.4 L255.6,232.1 L252.9,229.9 L250.2,227.7 L247.6,225.5 L244.9,223.3 L242.2,221.2Z" fill="#767676"/>
<path d="M234.6,242.9 L237.3,245.2 L240.0,247.5 L242.7,249.7 L245.5,252.0 L248.2,254.2 L251.0,256.5 L253.7,258.7 L256.5,260.9 L259.3,263.2 L262.0,265.4 L264.8,267.6 L267.6,269.8 L270.4,272.0 L273.2,274.1 L276.0,276.3 L278.9,278.4 L281.7,280.5 L284.6,282.6 L287.4,284.7 L290.3,286.8 L293.2,288.9 L296.1,290.9 L299.0,292.9 L301.9,294.9 L304.8,296.9 L307.7,298.8 L310.7,300.7 L313.6,302.6 L316.6,304.5 L319.5,306.4 L322.5,308.2 L325.5,310.0 L328.5,311.8 L331.6,313.5 L334.6,315.2 L337.6,316.9 L340.7,318.6 L343.8,320.2 L346.8,321.8 L349.9,323.4 M235.7,239.5 L238.4,241.8 L241.1,244.0 L243.8,246.3 L246.5,248.6 L249.3,250.8 L252.0,253.1 L254.7,255.4 L257.5,257.6 L260.2,259.9 L263.0,262.1 L265.7,264.3 L268.5,266.5 L271.3,268.8 L274.1,271.0 L276.9,273.1 L279.7,275.3 L282.5,277.5 L285.3,279.6 L288.2,281.8 L291.0,283.9 L293.9,286.0 L296.7,288.1 L299.6,290.1 L302.5,292.2 L305.4,294.2 L308.3,296.2 L311.2,298.2 L314.1,300.2 L317.0,302.1 L320.0,304.0 L322.9,305.9 L325.9,307.8 L328.9,309.6 L331.9,311.4 L334.9,313.2 L337.9,315.0 L340.9,316.7 L343.9,318.5 L347.0,320.1 L350.1,321.8 M236.8,236.1 L239.5,238.3 L242.2,240.6 L244.9,242.9 L247.6,245.1 L250.3,247.4 L253.1,249.7 L255.8,252.0 L258.5,254.2 L261.2,256.5 L264.0,258.7 L266.7,261.0 L269.5,263.2 L272.2,265.5 L275.0,267.7 L277.8,269.9 L280.6,272.1 L283.4,274.3 L286.2,276.5 L289.0,278.7 L291.8,280.8 L294.6,283.0 L297.4,285.1 L300.3,287.2 L303.1,289.3 L306.0,291.4 L308.9,293.4 L311.8,295.5 L314.7,297.5 L317.6,299.5 L320.5,301.5 L323.4,303.4 L326.3,305.4 L329.3,307.3 L332.3,309.2 L335.2,311.0 L338.2,312.9 L341.2,314.7 L344.2,316.5 L347.2,318.2 L350.3,320.0 M238.0,232.7 L240.7,234.9 L243.4,237.2 L246.1,239.4 L248.8,241.7 L251.5,244.0 L254.2,246.3 L256.9,248.5 L259.6,250.8 L262.3,253.1 L265.0,255.3 L267.8,257.6 L270.5,259.9 L273.2,262.1 L276.0,264.4 L278.7,266.6 L281.5,268.8 L284.3,271.1 L287.1,273.3 L289.8,275.5 L292.6,277.7 L295.4,279.9 L298.2,282.0 L301.1,284.2 L303.9,286.3 L306.7,288.4 L309.6,290.5 L312.4,292.6 L315.3,294.7 L318.2,296.8 L321.1,298.8 L324.0,300.8 L326.9,302.8 L329.8,304.8 L332.7,306.7 L335.7,308.7 L338.6,310.6 L341.6,312.4 L344.6,314.3 L347.5,316.1 L350.5,317.9 M239.2,229.3 L241.9,231.5 L244.6,233.8 L247.2,236.0 L249.9,238.3 L252.6,240.6 L255.3,242.8 L258.0,245.1 L260.7,247.4 L263.4,249.6 L266.1,251.9 L268.8,254.2 L271.6,256.5 L274.3,258.7 L277.0,261.0 L279.8,263.2 L282.5,265.5 L285.2,267.7 L288.0,270.0 L290.8,272.2 L293.5,274.4 L296.3,276.6 L299.1,278.8 L301.9,281.0 L304.7,283.2 L307.5,285.4 L310.4,287.5 L313.2,289.7 L316.0,291.8 L318.9,293.9 L321.7,296.0 L324.6,298.0 L327.5,300.1 L330.4,302.1 L333.3,304.1 L336.2,306.1 L339.1,308.1 L342.0,310.0 L345.0,311.9 L347.9,313.8 L350.9,315.7 M240.4,226.0 L243.1,228.2 L245.8,230.4 L248.4,232.7 L251.1,234.9 L253.8,237.2 L256.5,239.4 L259.2,241.7 L261.9,243.9 L264.5,246.2 L267.2,248.5 L269.9,250.8 L272.7,253.0 L275.4,255.3 L278.1,257.6 L280.8,259.8 L283.5,262.1 L286.3,264.4 L289.0,266.6 L291.8,268.9 L294.5,271.1 L297.3,273.4 L300.0,275.6 L302.8,277.8 L305.6,280.0 L308.4,282.2 L311.2,284.4 L314.0,286.6 L316.8,288.7 L319.6,290.9 L322.5,293.0 L325.3,295.1 L328.2,297.2 L331.0,299.3 L333.9,301.4 L336.8,303.4 L339.7,305.4 L342.6,307.4 L345.5,309.4 L348.4,311.4 L351.4,313.3 M241.6,222.7 L244.3,224.9 L247.0,227.1 L249.6,229.4 L252.3,231.6 L255.0,233.8 L257.7,236.0 L260.3,238.3 L263.0,240.5 L265.7,242.8 L268.4,245.1 L271.1,247.3 L273.8,249.6 L276.5,251.9 L279.2,254.1 L281.9,256.4 L284.6,258.7 L287.3,261.0 L290.1,263.2 L292.8,265.5 L295.5,267.8 L298.3,270.0 L301.0,272.3 L303.8,274.5 L306.5,276.7 L309.3,279.0 L312.1,281.2 L314.9,283.4 L317.7,285.6 L320.5,287.8 L323.3,289.9 L326.1,292.1 L328.9,294.2 L331.8,296.3 L334.6,298.4 L337.5,300.5 L340.3,302.6 L343.2,304.7 L346.1,306.7 L349.0,308.7 L351.9,310.7" fill="none" stroke="#d0d0d0" stroke-width="1.45" stroke-linecap="butt"/>
<path d="M244.6,215.2 L247.3,217.3 L250.0,219.4 L252.6,221.5 L255.3,223.7 L258.0,225.8 L260.7,228.0 L263.3,230.2 L266.0,232.4 L268.7,234.6 L271.3,236.8 L274.0,239.0 L276.7,241.3 L279.4,243.5 L282.1,245.8 L284.7,248.0 L287.4,250.3 L290.1,252.5 L292.8,254.8 L295.5,257.1 L298.2,259.3 L300.9,261.6 L303.6,263.9 L306.3,266.2 L309.1,268.4 L311.8,270.7 L314.5,273.0 L317.2,275.2 L320.0,277.5 L322.7,279.7 L325.5,282.0 L328.3,284.2 L331.0,286.4 L333.8,288.6 L336.6,290.8 L339.4,293.0 L342.2,295.2 L345.0,297.3 L347.8,299.5 L350.7,301.6 L353.5,303.7 L360.2,280.8 L357.5,278.5 L354.8,276.2 L352.1,274.0 L349.4,271.7 L346.7,269.4 L344.0,267.2 L341.3,264.9 L338.7,262.7 L336.0,260.4 L333.3,258.2 L330.6,256.0 L328.0,253.7 L325.3,251.5 L322.6,249.3 L319.9,247.2 L317.3,245.0 L314.6,242.8 L311.9,240.7 L309.3,238.6 L306.6,236.4 L303.9,234.3 L301.2,232.3 L298.6,230.2 L295.9,228.2 L293.2,226.1 L290.5,224.1 L287.8,222.2 L285.1,220.2 L282.4,218.3 L279.7,216.4 L277.0,214.5 L274.3,212.6 L271.6,210.8 L268.9,209.0 L266.1,207.2 L263.4,205.4 L260.7,203.7 L257.9,202.0 L255.2,200.3 L252.4,198.7Z" fill="#767676"/>
<path d="M245.2,213.8 L247.9,215.8 L250.6,217.9 L253.2,220.0 L255.9,222.1 L258.6,224.3 L261.3,226.4 L263.9,228.6 L266.6,230.8 L269.3,233.0 L271.9,235.2 L274.6,237.4 L277.3,239.6 L280.0,241.8 L282.6,244.1 L285.3,246.3 L288.0,248.6 L290.7,250.8 L293.4,253.1 L296.1,255.4 L298.8,257.6 L301.5,259.9 L304.2,262.2 L306.9,264.4 L309.6,266.7 L312.3,269.0 L315.0,271.3 L317.8,273.5 L320.5,275.8 L323.2,278.0 L326.0,280.3 L328.8,282.5 L331.5,284.8 L334.3,287.0 L337.1,289.2 L339.8,291.4 L342.6,293.6 L345.4,295.8 L348.3,297.9 L351.1,300.1 L353.9,302.2 M246.4,211.0 L249.1,213.0 L251.8,215.0 L254.5,217.1 L257.1,219.2 L259.8,221.3 L262.5,223.4 L265.2,225.5 L267.8,227.6 L270.5,229.8 L273.2,232.0 L275.8,234.1 L278.5,236.3 L281.2,238.5 L283.9,240.7 L286.5,243.0 L289.2,245.2 L291.9,247.4 L294.6,249.7 L297.2,252.0 L299.9,254.2 L302.6,256.5 L305.3,258.7 L308.0,261.0 L310.7,263.3 L313.4,265.6 L316.1,267.8 L318.8,270.1 L321.6,272.4 L324.3,274.6 L327.0,276.9 L329.8,279.2 L332.5,281.4 L335.3,283.7 L338.0,285.9 L340.8,288.1 L343.6,290.4 L346.3,292.6 L349.1,294.8 L351.9,297.0 L354.7,299.1 M247.6,208.3 L250.3,210.3 L253.0,212.3 L255.6,214.3 L258.3,216.3 L261.0,218.4 L263.7,220.4 L266.4,222.5 L269.0,224.6 L271.7,226.7 L274.4,228.8 L277.1,231.0 L279.7,233.1 L282.4,235.3 L285.1,237.5 L287.7,239.7 L290.4,241.9 L293.1,244.1 L295.8,246.3 L298.4,248.6 L301.1,250.8 L303.8,253.1 L306.5,255.3 L309.2,257.6 L311.9,259.9 L314.6,262.1 L317.3,264.4 L320.0,266.7 L322.7,268.9 L325.4,271.2 L328.1,273.5 L330.8,275.8 L333.5,278.0 L336.3,280.3 L339.0,282.5 L341.8,284.8 L344.5,287.0 L347.3,289.3 L350.0,291.5 L352.8,293.7 L355.6,295.9 M248.7,205.9 L251.4,207.8 L254.1,209.7 L256.8,211.6 L259.5,213.6 L262.2,215.6 L264.9,217.6 L267.6,219.6 L270.2,221.7 L272.9,223.7 L275.6,225.8 L278.3,227.9 L281.0,230.0 L283.6,232.2 L286.3,234.3 L289.0,236.5 L291.6,238.7 L294.3,240.9 L297.0,243.1 L299.7,245.3 L302.3,247.5 L305.0,249.7 L307.7,252.0 L310.4,254.2 L313.0,256.5 L315.7,258.7 L318.4,261.0 L321.1,263.2 L323.8,265.5 L326.5,267.8 L329.2,270.1 L331.9,272.3 L334.6,274.6 L337.3,276.9 L340.1,279.1 L342.8,281.4 L345.5,283.7 L348.3,285.9 L351.0,288.2 L353.8,290.4 L356.5,292.6 M249.8,203.6 L252.5,205.4 L255.2,207.3 L258.0,209.1 L260.7,211.0 L263.4,213.0 L266.1,214.9 L268.7,216.9 L271.4,218.9 L274.1,220.9 L276.8,222.9 L279.5,225.0 L282.2,227.1 L284.8,229.2 L287.5,231.3 L290.2,233.4 L292.9,235.5 L295.5,237.7 L298.2,239.8 L300.9,242.0 L303.5,244.2 L306.2,246.4 L308.9,248.6 L311.6,250.9 L314.2,253.1 L316.9,255.3 L319.6,257.6 L322.3,259.8 L325.0,262.1 L327.7,264.4 L330.3,266.6 L333.0,268.9 L335.7,271.2 L338.4,273.4 L341.2,275.7 L343.9,278.0 L346.6,280.3 L349.3,282.5 L352.0,284.8 L354.8,287.1 L357.5,289.3 M250.9,201.5 L253.6,203.2 L256.3,205.0 L259.1,206.8 L261.8,208.7 L264.5,210.5 L267.2,212.4 L269.9,214.3 L272.6,216.3 L275.3,218.2 L278.0,220.2 L280.7,222.2 L283.4,224.2 L286.0,226.3 L288.7,228.3 L291.4,230.4 L294.1,232.5 L296.7,234.6 L299.4,236.7 L302.1,238.9 L304.8,241.0 L307.4,243.2 L310.1,245.4 L312.8,247.6 L315.4,249.8 L318.1,252.0 L320.8,254.2 L323.5,256.5 L326.2,258.7 L328.8,261.0 L331.5,263.2 L334.2,265.5 L336.9,267.8 L339.6,270.0 L342.3,272.3 L345.0,274.6 L347.7,276.8 L350.4,279.1 L353.1,281.4 L355.8,283.6 L358.6,285.9 M251.9,199.6 L254.7,201.2 L257.4,203.0 L260.1,204.7 L262.9,206.5 L265.6,208.3 L268.3,210.1 L271.0,211.9 L273.7,213.8 L276.4,215.7 L279.1,217.6 L281.8,219.5 L284.5,221.5 L287.2,223.5 L289.9,225.5 L292.6,227.5 L295.3,229.6 L298.0,231.6 L300.6,233.7 L303.3,235.8 L306.0,237.9 L308.7,240.1 L311.3,242.2 L314.0,244.4 L316.7,246.6 L319.3,248.8 L322.0,251.0 L324.7,253.2 L327.4,255.4 L330.0,257.6 L332.7,259.9 L335.4,262.1 L338.1,264.4 L340.8,266.6 L343.4,268.9 L346.1,271.1 L348.8,273.4 L351.5,275.7 L354.2,278.0 L356.9,280.2 L359.7,282.5" fill="none" stroke="#d0d0d0" stroke-width="1.45" stroke-linecap="butt"/>
<path d="M254.2,195.8 L257.0,197.3 L259.8,198.8 L262.6,200.3 L265.3,201.9 L268.1,203.5 L270.9,205.1 L273.6,206.8 L276.4,208.5 L279.1,210.2 L281.9,212.0 L284.6,213.7 L287.3,215.5 L290.0,217.4 L292.7,219.2 L295.5,221.1 L298.2,223.0 L300.9,224.9 L303.6,226.9 L306.2,228.9 L308.9,230.9 L311.6,232.9 L314.3,234.9 L317.0,237.0 L319.7,239.0 L322.3,241.1 L325.0,243.2 L327.7,245.4 L330.4,247.5 L333.0,249.6 L335.7,251.8 L338.4,254.0 L341.0,256.2 L343.7,258.4 L346.4,260.6 L349.1,262.8 L351.7,265.1 L354.4,267.3 L357.1,269.6 L359.8,271.8 L362.5,274.1 L370.9,252.0 L368.2,250.0 L365.5,248.0 L362.9,246.0 L360.2,244.1 L357.5,242.1 L354.8,240.2 L352.0,238.3 L349.3,236.5 L346.6,234.6 L343.9,232.8 L341.2,231.0 L338.4,229.3 L335.7,227.6 L332.9,225.9 L330.2,224.2 L327.4,222.6 L324.7,220.9 L321.9,219.4 L319.1,217.8 L316.3,216.3 L313.5,214.8 L310.7,213.3 L307.9,211.9 L305.0,210.5 L302.2,209.2 L299.4,207.8 L296.5,206.5 L293.6,205.3 L290.8,204.0 L287.9,202.8 L285.0,201.7 L282.1,200.5 L279.2,199.4 L276.2,198.4 L273.3,197.4 L270.3,196.4 L267.4,195.4 L264.4,194.5Z" fill="#767676"/>
<path d="M254.6,195.2 L257.4,196.6 L260.2,198.1 L263.0,199.6 L265.8,201.1 L268.6,202.7 L271.4,204.3 L274.1,205.9 L276.9,207.6 L279.6,209.3 L282.4,211.0 L285.1,212.7 L287.9,214.5 L290.6,216.3 L293.3,218.1 L296.0,219.9 L298.7,221.8 L301.4,223.7 L304.1,225.6 L306.8,227.6 L309.5,229.5 L312.2,231.5 L314.9,233.5 L317.6,235.5 L320.3,237.6 L322.9,239.7 L325.6,241.7 L328.3,243.8 L331.0,246.0 L333.6,248.1 L336.3,250.2 L339.0,252.4 L341.6,254.6 L344.3,256.8 L347.0,259.0 L349.7,261.2 L352.3,263.4 L355.0,265.6 L357.7,267.9 L360.4,270.1 L363.1,272.4 M255.4,194.1 L258.2,195.5 L261.1,196.9 L263.9,198.3 L266.7,199.7 L269.5,201.2 L272.3,202.7 L275.1,204.3 L277.9,205.9 L280.6,207.5 L283.4,209.1 L286.1,210.8 L288.9,212.5 L291.6,214.2 L294.4,215.9 L297.1,217.7 L299.8,219.5 L302.5,221.3 L305.3,223.2 L308.0,225.1 L310.7,227.0 L313.4,228.9 L316.1,230.8 L318.8,232.8 L321.4,234.8 L324.1,236.8 L326.8,238.9 L329.5,240.9 L332.2,243.0 L334.8,245.1 L337.5,247.2 L340.2,249.3 L342.9,251.4 L345.5,253.6 L348.2,255.8 L350.9,257.9 L353.6,260.1 L356.2,262.3 L358.9,264.6 L361.6,266.8 L364.3,269.0 M256.1,193.3 L259.0,194.6 L261.8,195.9 L264.7,197.2 L267.5,198.6 L270.3,200.0 L273.2,201.4 L276.0,202.9 L278.8,204.4 L281.6,205.9 L284.3,207.5 L287.1,209.0 L289.9,210.7 L292.7,212.3 L295.4,214.0 L298.2,215.7 L300.9,217.4 L303.6,219.2 L306.4,220.9 L309.1,222.8 L311.8,224.6 L314.5,226.5 L317.2,228.3 L319.9,230.2 L322.6,232.2 L325.3,234.1 L328.0,236.1 L330.7,238.1 L333.4,240.1 L336.1,242.2 L338.7,244.2 L341.4,246.3 L344.1,248.4 L346.8,250.5 L349.4,252.6 L352.1,254.8 L354.8,257.0 L357.4,259.1 L360.1,261.3 L362.8,263.5 L365.5,265.7 M256.8,192.8 L259.7,193.9 L262.5,195.2 L265.4,196.4 L268.3,197.7 L271.1,199.0 L274.0,200.3 L276.8,201.7 L279.6,203.1 L282.4,204.6 L285.2,206.0 L288.0,207.5 L290.8,209.1 L293.6,210.6 L296.4,212.2 L299.2,213.8 L301.9,215.5 L304.7,217.2 L307.4,218.9 L310.1,220.6 L312.9,222.4 L315.6,224.2 L318.3,226.0 L321.0,227.8 L323.8,229.7 L326.5,231.6 L329.2,233.5 L331.9,235.5 L334.5,237.4 L337.2,239.4 L339.9,241.4 L342.6,243.5 L345.3,245.5 L348.0,247.6 L350.6,249.6 L353.3,251.7 L356.0,253.9 L358.7,256.0 L361.3,258.1 L364.0,260.3 L366.7,262.5 M257.3,192.4 L260.3,193.5 L263.2,194.7 L266.1,195.8 L269.0,197.0 L271.8,198.2 L274.7,199.5 L277.6,200.8 L280.4,202.1 L283.3,203.4 L286.1,204.8 L288.9,206.2 L291.7,207.7 L294.5,209.2 L297.3,210.7 L300.1,212.2 L302.9,213.8 L305.7,215.4 L308.4,217.0 L311.2,218.7 L313.9,220.4 L316.7,222.1 L319.4,223.9 L322.1,225.6 L324.9,227.4 L327.6,229.3 L330.3,231.1 L333.0,233.0 L335.7,234.9 L338.4,236.8 L341.1,238.8 L343.8,240.7 L346.5,242.7 L349.2,244.7 L351.8,246.8 L354.5,248.8 L357.2,250.9 L359.9,253.0 L362.6,255.1 L365.2,257.2 L367.9,259.3 M257.8,192.4 L260.8,193.4 L263.7,194.4 L266.7,195.5 L269.6,196.6 L272.5,197.7 L275.4,198.9 L278.3,200.1 L281.1,201.3 L284.0,202.5 L286.9,203.8 L289.7,205.2 L292.5,206.5 L295.4,207.9 L298.2,209.4 L301.0,210.8 L303.8,212.3 L306.6,213.8 L309.4,215.4 L312.1,217.0 L314.9,218.6 L317.7,220.2 L320.4,221.9 L323.2,223.6 L325.9,225.3 L328.7,227.1 L331.4,228.9 L334.1,230.7 L336.8,232.5 L339.5,234.4 L342.2,236.3 L344.9,238.2 L347.6,240.1 L350.3,242.0 L353.0,244.0 L355.7,246.0 L358.4,248.0 L361.1,250.1 L363.8,252.1 L366.4,254.2 L369.1,256.3 M258.3,192.5 L261.2,193.4 L264.2,194.4 L267.2,195.4 L270.1,196.4 L273.0,197.4 L276.0,198.5 L278.9,199.6 L281.8,200.7 L284.7,201.9 L287.6,203.1 L290.4,204.4 L293.3,205.6 L296.1,206.9 L299.0,208.3 L301.8,209.7 L304.6,211.1 L307.5,212.5 L310.3,214.0 L313.1,215.5 L315.9,217.0 L318.6,218.6 L321.4,220.2 L324.2,221.8 L326.9,223.4 L329.7,225.1 L332.4,226.8 L335.2,228.6 L337.9,230.3 L340.6,232.1 L343.4,233.9 L346.1,235.8 L348.8,237.6 L351.5,239.5 L354.2,241.4 L356.9,243.4 L359.6,245.3 L362.3,247.3 L365.0,249.3 L367.6,251.4 L370.3,253.4" fill="none" stroke="#d0d0d0" stroke-width="1.45" stroke-linecap="butt"/>
<path d="M280.1,199.5 L283.1,200.4 L286.0,201.4 L289.0,202.3 L291.9,203.4 L294.8,204.4 L297.8,205.5 L300.7,206.6 L303.6,207.8 L306.5,209.0 L309.3,210.2 L312.2,211.4 L315.1,212.7 L317.9,214.0 L320.8,215.4 L323.6,216.8 L326.4,218.2 L329.2,219.7 L332.0,221.1 L334.8,222.6 L337.6,224.2 L340.4,225.8 L343.1,227.4 L345.9,229.0 L348.7,230.7 L351.4,232.4 L354.2,234.1 L356.9,235.8 L359.6,237.6 L362.4,239.4 L365.1,241.2 L367.8,243.1 L370.5,245.0 L373.2,246.9 L380.1,234.4 L377.2,233.0 L374.4,231.7 L371.5,230.4 L368.7,229.2 L365.8,227.9 L362.9,226.7 L360.0,225.6 L357.1,224.5 L354.2,223.4 L351.3,222.3 L348.3,221.3 L345.4,220.3 L342.4,219.3 L339.4,218.4Z" fill="#767676"/>
<path d="M283.3,200.5 L286.2,201.4 L289.2,202.4 L292.2,203.3 L295.1,204.3 L298.0,205.4 L301.0,206.5 L303.9,207.6 L306.8,208.7 L309.7,209.9 L312.5,211.1 L315.4,212.3 L318.3,213.6 L321.1,214.9 L324.0,216.3 L326.8,217.6 L329.6,219.1 L332.4,220.5 L335.3,222.0 L338.1,223.5 L340.8,225.0 L343.6,226.6 L346.4,228.2 L349.2,229.8 L351.9,231.4 L354.7,233.1 L357.4,234.8 L360.2,236.6 L362.9,238.3 L365.6,240.1 L368.3,241.9 L371.1,243.8 L373.8,245.6 M292.6,203.5 L295.6,204.4 L298.5,205.3 L301.5,206.3 L304.4,207.3 L307.4,208.4 L310.3,209.5 L313.2,210.6 L316.1,211.8 L319.0,212.9 L321.8,214.2 L324.7,215.4 L327.6,216.7 L330.4,218.0 L333.3,219.4 L336.1,220.8 L338.9,222.2 L341.7,223.6 L344.5,225.1 L347.3,226.6 L350.1,228.2 L352.9,229.7 L355.7,231.3 L358.4,233.0 L361.2,234.6 L363.9,236.3 L366.7,238.0 L369.4,239.8 L372.1,241.6 L374.9,243.4 M301.9,206.4 L304.9,207.4 L307.8,208.3 L310.8,209.3 L313.7,210.3 L316.7,211.4 L319.6,212.5 L322.5,213.6 L325.4,214.8 L328.3,216.0 L331.1,217.2 L334.0,218.5 L336.9,219.8 L339.7,221.1 L342.5,222.5 L345.4,223.9 L348.2,225.3 L351.0,226.8 L353.8,228.3 L356.6,229.8 L359.4,231.3 L362.2,232.9 L364.9,234.5 L367.7,236.2 L370.4,237.8 L373.2,239.5 L375.9,241.3 M308.3,208.5 L311.2,209.4 L314.2,210.3 L317.2,211.3 L320.1,212.3 L323.0,213.4 L326.0,214.4 L328.9,215.5 L331.8,216.7 L334.7,217.8 L337.6,219.1 L340.4,220.3 L343.3,221.6 L346.2,222.9 L349.0,224.2 L351.8,225.6 L354.7,227.0 L357.5,228.4 L360.3,229.9 L363.1,231.4 L365.9,232.9 L368.6,234.5 L371.4,236.1 L374.2,237.7 L376.9,239.4 M317.6,211.5 L320.6,212.4 L323.5,213.3 L326.5,214.3 L329.4,215.3 L332.4,216.4 L335.3,217.4 L338.2,218.6 L341.1,219.7 L344.0,220.9 L346.9,222.1 L349.7,223.4 L352.6,224.7 L355.4,226.0 L358.3,227.3 L361.1,228.7 L363.9,230.1 L366.7,231.6 L369.5,233.0 L372.3,234.6 L375.1,236.1 L377.9,237.7 M326.9,214.4 L329.9,215.3 L332.9,216.3 L335.8,217.3 L338.7,218.3 L341.7,219.4 L344.6,220.5 L347.5,221.6 L350.4,222.8 L353.3,224.0 L356.2,225.2 L359.0,226.4 L361.9,227.7 L364.7,229.1 L367.6,230.4 L370.4,231.8 L373.2,233.2 L376.0,234.7 L378.8,236.2 M333.3,216.5 L336.3,217.4 L339.2,218.3 L342.2,219.3 L345.1,220.3 L348.1,221.3 L351.0,222.4 L353.9,223.5 L356.8,224.6 L359.7,225.8 L362.6,227.0 L365.5,228.3 L368.3,229.5 L371.2,230.8 L374.0,232.2 L376.8,233.5 L379.7,234.9" fill="none" stroke="#d0d0d0" stroke-width="1.45" stroke-linecap="butt"/>
<path d="M338.7,324.3 L341.5,325.3 L344.4,326.1 L347.4,326.9 L350.3,327.6 L350.0,322.9 L346.8,322.8 L343.7,322.6 L340.6,322.3 L337.5,322.0 L334.4,321.6 L331.4,321.1 L328.4,320.5 L325.5,319.9 L322.5,319.1 L319.7,318.3 L316.8,317.3Z" fill="#767676"/>
<path d="M338.6,324.3 L341.5,325.2 L344.4,326.0 L347.3,326.8 L350.3,327.4 M335.5,323.3 L338.4,324.2 L341.3,325.1 L344.2,325.8 L347.2,326.5 L350.2,327.1 M332.4,322.3 L335.3,323.3 L338.2,324.1 L341.1,324.9 L344.1,325.6 L347.1,326.2 L350.1,326.7 M329.4,321.3 L332.2,322.3 L335.1,323.2 L338.0,323.9 L341.0,324.6 L344.0,325.2 L347.0,325.8 L350.0,326.2 M326.3,320.3 L329.2,321.3 L332.0,322.2 L334.9,323.0 L337.9,323.7 L340.9,324.3 L343.9,324.9 L346.9,325.3 L350.0,325.8 M326.1,320.3 L329.0,321.2 L331.9,322.0 L334.8,322.8 L337.8,323.4 L340.8,324.0 L343.8,324.5 L346.8,324.9 L349.9,325.2 M323.0,319.3 L325.9,320.3 L328.8,321.1 L331.7,321.8 L334.7,322.5 L337.7,323.1 L340.7,323.6 L343.7,324.0 L346.8,324.3 L349.9,324.6 M320.0,318.3 L322.8,319.3 L325.7,320.1 L328.6,320.9 L331.6,321.6 L334.6,322.2 L337.6,322.7 L340.6,323.1 L343.7,323.4 L346.8,323.7 L349.9,324.0 M316.9,317.4 L319.8,318.3 L322.6,319.2 L325.5,320.0 L328.5,320.7 L331.5,321.3 L334.5,321.8 L337.5,322.2 L340.6,322.6 L343.7,322.9 L346.8,323.1 L349.9,323.2" fill="none" stroke="#e0e0e0" stroke-width="1.05" stroke-linecap="butt"/>
<path d="M294.9,310.4 L297.7,311.3 L300.6,312.0 L303.5,312.7 L306.5,313.3 L309.5,313.8 L312.5,314.2 L315.6,314.5 L318.7,314.7 L321.8,314.9 L325.0,314.9 L328.2,314.9 L331.4,314.9 L334.7,314.7 L338.0,314.5 L341.3,314.3 L344.6,313.9 L348.0,313.6 L351.4,313.2 L354.2,301.2 L350.6,301.9 L347.0,302.7 L343.5,303.4 L340.0,304.0 L336.5,304.7 L333.0,305.3 L329.6,305.8 L326.2,306.4 L322.8,306.8 L319.4,307.2 L316.1,307.6 L312.8,307.8 L309.5,308.0 L306.3,308.2 L303.1,308.2 L299.9,308.2 L296.8,308.1 L293.7,307.8 L290.7,307.5 L287.7,307.1 L284.7,306.6 L281.8,306.0 L278.9,305.2 L276.0,304.4Z" fill="#767676"/>
<path d="M291.9,309.4 L294.8,310.3 L297.6,311.2 L300.5,311.9 L303.4,312.6 L306.4,313.1 L309.4,313.6 L312.5,314.0 L315.5,314.2 L318.7,314.4 L321.8,314.5 L325.0,314.6 L328.2,314.5 L331.5,314.4 L334.7,314.2 L338.0,314.0 L341.4,313.7 L344.7,313.4 L348.1,313.0 L351.5,312.6 M291.7,309.4 L294.6,310.2 L297.4,311.0 L300.4,311.7 L303.3,312.3 L306.3,312.7 L309.4,313.1 L312.4,313.4 L315.5,313.6 L318.7,313.7 L321.9,313.8 L325.1,313.8 L328.3,313.7 L331.6,313.5 L334.9,313.3 L338.2,313.0 L341.5,312.7 L344.9,312.3 L348.3,311.8 L351.8,311.4 M288.7,308.4 L291.5,309.3 L294.4,310.1 L297.3,310.8 L300.2,311.4 L303.2,311.9 L306.3,312.3 L309.3,312.6 L312.4,312.8 L315.5,313.0 L318.7,313.0 L321.9,313.0 L325.1,312.9 L328.4,312.8 L331.7,312.5 L335.0,312.3 L338.4,311.9 L341.7,311.5 L345.2,311.1 L348.6,310.6 L352.0,310.1 M285.7,307.4 L288.5,308.3 L291.3,309.2 L294.2,309.9 L297.2,310.5 L300.1,311.1 L303.2,311.5 L306.2,311.8 L309.3,312.0 L312.4,312.2 L315.6,312.3 L318.8,312.3 L322.0,312.2 L325.2,312.0 L328.5,311.8 L331.9,311.5 L335.2,311.2 L338.6,310.8 L342.0,310.4 L345.4,309.9 L348.8,309.4 L352.3,308.8 M285.4,307.4 L288.3,308.2 L291.2,309.0 L294.1,309.6 L297.1,310.2 L300.1,310.6 L303.1,311.0 L306.2,311.3 L309.3,311.4 L312.4,311.5 L315.6,311.5 L318.8,311.4 L322.1,311.3 L325.4,311.1 L328.7,310.8 L332.0,310.5 L335.4,310.1 L338.8,309.7 L342.2,309.2 L345.7,308.7 L349.1,308.1 L352.6,307.5 M282.4,306.4 L285.2,307.3 L288.1,308.1 L291.0,308.8 L294.0,309.3 L297.0,309.8 L300.0,310.2 L303.1,310.5 L306.2,310.7 L309.3,310.8 L312.5,310.8 L315.7,310.7 L318.9,310.6 L322.2,310.4 L325.5,310.1 L328.9,309.8 L332.2,309.4 L335.6,309.0 L339.0,308.5 L342.5,308.0 L345.9,307.4 L349.4,306.8 L352.9,306.1 M279.4,305.4 L282.2,306.3 L285.1,307.2 L288.0,307.9 L290.9,308.5 L293.9,309.0 L296.9,309.4 L299.9,309.7 L303.0,309.9 L306.2,310.0 L309.3,310.0 L312.5,310.0 L315.8,309.9 L319.0,309.7 L322.3,309.4 L325.7,309.1 L329.0,308.7 L332.4,308.3 L335.8,307.8 L339.3,307.3 L342.7,306.7 L346.2,306.1 L349.7,305.4 L353.3,304.8 M279.2,305.4 L282.0,306.2 L284.9,307.0 L287.8,307.6 L290.8,308.1 L293.8,308.6 L296.8,308.9 L299.9,309.1 L303.0,309.3 L306.2,309.3 L309.4,309.3 L312.6,309.2 L315.9,309.0 L319.2,308.7 L322.5,308.4 L325.9,308.0 L329.2,307.6 L332.7,307.1 L336.1,306.6 L339.6,306.0 L343.0,305.4 L346.5,304.7 L350.1,304.1 L353.6,303.4 M276.1,304.4 L279.0,305.3 L281.8,306.1 L284.8,306.7 L287.7,307.3 L290.7,307.7 L293.7,308.1 L296.8,308.4 L299.9,308.5 L303.1,308.6 L306.2,308.6 L309.5,308.5 L312.7,308.3 L316.0,308.0 L319.3,307.7 L322.7,307.4 L326.1,306.9 L329.5,306.4 L332.9,305.9 L336.4,305.3 L339.8,304.7 L343.3,304.1 L346.9,303.4 L350.4,302.7 L354.0,301.9" fill="none" stroke="#e0e0e0" stroke-width="1.05" stroke-linecap="butt"/>
<path d="M254.3,297.4 L257.1,298.3 L260.0,299.1 L262.9,299.7 L265.8,300.3 L268.8,300.7 L271.8,301.0 L274.9,301.2 L278.0,301.2 L281.2,301.2 L284.4,301.1 L287.7,300.9 L290.9,300.6 L294.3,300.2 L297.6,299.8 L301.0,299.3 L304.4,298.7 L307.9,298.1 L311.4,297.4 L314.9,296.6 L318.4,295.8 L322.0,295.0 L325.6,294.2 L329.2,293.3 L332.8,292.4 L336.4,291.5 L340.1,290.5 L343.8,289.6 L347.5,288.6 L351.2,287.7 L354.9,286.7 L358.6,285.8 L363.5,271.2 L359.7,272.2 L355.9,273.1 L352.0,274.1 L348.3,275.1 L344.5,276.2 L340.7,277.2 L336.9,278.3 L333.1,279.4 L329.4,280.5 L325.6,281.6 L321.9,282.6 L318.2,283.7 L314.5,284.8 L310.8,285.8 L307.2,286.8 L303.5,287.8 L299.9,288.7 L296.3,289.7 L292.8,290.5 L289.3,291.3 L285.8,292.1 L282.3,292.8 L278.9,293.4 L275.6,293.9 L272.2,294.4 L268.9,294.8 L265.7,295.0 L262.5,295.2 L259.3,295.3 L256.2,295.2 L253.1,295.1 L250.1,294.8 L247.1,294.4 L244.2,293.9 L241.3,293.2 L238.5,292.4 L235.7,291.4Z" fill="#767676"/>
<path d="M254.2,297.4 L257.0,298.3 L259.9,299.0 L262.8,299.6 L265.8,300.1 L268.8,300.5 L271.8,300.7 L274.9,300.9 L278.0,300.9 L281.2,300.8 L284.4,300.7 L287.7,300.5 L291.0,300.1 L294.3,299.7 L297.7,299.3 L301.1,298.7 L304.5,298.1 L308.0,297.4 L311.5,296.7 L315.0,296.0 L318.6,295.2 L322.1,294.3 L325.7,293.4 L329.4,292.6 L333.0,291.6 L336.6,290.7 L340.3,289.7 L344.0,288.8 L347.7,287.8 L351.4,286.9 L355.1,285.9 L358.9,285.0 M251.2,296.4 L254.0,297.3 L256.9,298.1 L259.8,298.8 L262.7,299.3 L265.7,299.7 L268.7,300.0 L271.8,300.2 L274.9,300.2 L278.1,300.2 L281.3,300.1 L284.5,299.8 L287.8,299.5 L291.1,299.2 L294.5,298.7 L297.9,298.2 L301.3,297.6 L304.8,296.9 L308.3,296.2 L311.8,295.4 L315.3,294.6 L318.9,293.8 L322.5,292.9 L326.1,292.0 L329.7,291.1 L333.4,290.1 L337.1,289.2 L340.8,288.2 L344.5,287.2 L348.2,286.2 L351.9,285.3 L355.6,284.3 L359.4,283.3 M251.0,296.4 L253.8,297.2 L256.7,297.9 L259.6,298.5 L262.6,298.9 L265.6,299.2 L268.7,299.4 L271.8,299.5 L274.9,299.5 L278.1,299.4 L281.4,299.2 L284.6,299.0 L288.0,298.6 L291.3,298.1 L294.7,297.6 L298.1,297.0 L301.6,296.4 L305.0,295.7 L308.6,294.9 L312.1,294.1 L315.7,293.2 L319.3,292.4 L322.9,291.5 L326.5,290.5 L330.2,289.6 L333.8,288.6 L337.5,287.6 L341.2,286.6 L344.9,285.6 L348.7,284.6 L352.4,283.7 L356.1,282.7 L359.9,281.7 M248.0,295.4 L250.8,296.3 L253.7,297.0 L256.6,297.6 L259.5,298.1 L262.5,298.5 L265.6,298.7 L268.7,298.9 L271.8,298.9 L275.0,298.8 L278.2,298.6 L281.5,298.4 L284.8,298.0 L288.1,297.6 L291.5,297.1 L294.9,296.5 L298.3,295.8 L301.8,295.1 L305.3,294.4 L308.9,293.6 L312.4,292.7 L316.0,291.8 L319.6,290.9 L323.3,290.0 L326.9,289.0 L330.6,288.0 L334.3,287.0 L338.0,286.0 L341.7,285.0 L345.4,284.0 L349.2,283.0 L352.9,282.0 L356.7,281.1 L360.4,280.1 M245.0,294.4 L247.8,295.3 L250.6,296.1 L253.5,296.8 L256.5,297.3 L259.4,297.7 L262.5,298.0 L265.5,298.2 L268.7,298.2 L271.8,298.2 L275.0,298.0 L278.3,297.8 L281.6,297.4 L284.9,297.0 L288.3,296.5 L291.7,296.0 L295.1,295.3 L298.6,294.6 L302.1,293.9 L305.6,293.1 L309.2,292.2 L312.8,291.3 L316.4,290.4 L320.0,289.5 L323.7,288.5 L327.3,287.5 L331.0,286.5 L334.7,285.5 L338.4,284.5 L342.2,283.4 L345.9,282.4 L349.7,281.4 L353.4,280.4 L357.2,279.4 L361.0,278.5 M244.8,294.4 L247.6,295.2 L250.5,295.9 L253.4,296.5 L256.4,296.9 L259.4,297.3 L262.4,297.5 L265.5,297.6 L268.7,297.5 L271.9,297.4 L275.1,297.2 L278.4,296.9 L281.7,296.5 L285.1,296.0 L288.5,295.4 L291.9,294.8 L295.4,294.1 L298.9,293.4 L302.4,292.6 L305.9,291.7 L309.5,290.8 L313.1,289.9 L316.7,289.0 L320.4,288.0 L324.1,287.0 L327.8,286.0 L331.5,284.9 L335.2,283.9 L338.9,282.9 L342.7,281.8 L346.4,280.8 L350.2,279.8 L354.0,278.8 L357.7,277.8 L361.5,276.9 M241.8,293.4 L244.6,294.3 L247.4,295.1 L250.3,295.7 L253.3,296.2 L256.3,296.5 L259.3,296.8 L262.4,296.9 L265.5,296.9 L268.7,296.8 L272.0,296.6 L275.2,296.3 L278.5,295.9 L281.9,295.5 L285.3,294.9 L288.7,294.3 L292.1,293.6 L295.6,292.9 L299.1,292.1 L302.7,291.3 L306.3,290.4 L309.9,289.4 L313.5,288.5 L317.1,287.5 L320.8,286.5 L324.5,285.5 L328.2,284.4 L331.9,283.4 L335.7,282.3 L339.4,281.3 L343.2,280.2 L346.9,279.2 L350.7,278.2 L354.5,277.2 L358.3,276.2 L362.1,275.2 M238.8,292.4 L241.6,293.4 L244.4,294.2 L247.3,294.8 L250.2,295.4 L253.2,295.8 L256.2,296.0 L259.3,296.2 L262.4,296.2 L265.6,296.2 L268.8,296.0 L272.0,295.7 L275.3,295.4 L278.7,294.9 L282.0,294.4 L285.5,293.8 L288.9,293.1 L292.4,292.4 L295.9,291.6 L299.4,290.8 L303.0,289.9 L306.6,289.0 L310.2,288.0 L313.9,287.0 L317.5,286.0 L321.2,285.0 L324.9,283.9 L328.7,282.8 L332.4,281.8 L336.1,280.7 L339.9,279.7 L343.7,278.6 L347.5,277.6 L351.2,276.6 L355.0,275.6 L358.8,274.6 L362.6,273.6 M238.6,292.4 L241.4,293.3 L244.2,294.0 L247.2,294.6 L250.1,295.0 L253.1,295.3 L256.2,295.5 L259.3,295.6 L262.4,295.6 L265.6,295.4 L268.9,295.2 L272.2,294.8 L275.5,294.4 L278.8,293.9 L282.2,293.3 L285.7,292.7 L289.1,291.9 L292.7,291.2 L296.2,290.3 L299.8,289.4 L303.3,288.5 L307.0,287.5 L310.6,286.5 L314.3,285.5 L318.0,284.5 L321.7,283.4 L325.4,282.3 L329.1,281.3 L332.9,280.2 L336.6,279.1 L340.4,278.0 L344.2,277.0 L348.0,276.0 L351.8,274.9 L355.6,273.9 L359.4,273.0 L363.2,272.0" fill="none" stroke="#e0e0e0" stroke-width="1.05" stroke-linecap="butt"/>
<path d="M225.4,287.8 L228.3,288.3 L231.3,288.7 L234.3,288.9 L237.4,289.0 L240.5,288.9 L243.7,288.8 L247.0,288.5 L250.2,288.1 L253.6,287.6 L256.9,287.1 L260.4,286.4 L263.8,285.6 L267.3,284.8 L270.8,283.9 L274.4,283.0 L278.0,282.0 L281.6,280.9 L285.3,279.8 L289.0,278.7 L292.7,277.5 L296.4,276.3 L300.2,275.1 L303.9,273.9 L307.7,272.7 L311.5,271.4 L315.4,270.2 L319.2,269.0 L323.0,267.8 L326.9,266.7 L330.7,265.5 L334.6,264.4 L338.4,263.3 L342.3,262.3 L346.1,261.3 L350.0,260.3 L353.8,259.4 L357.7,258.5 L361.5,257.7 L365.3,256.9 L369.2,256.2 L374.1,244.8 L370.4,245.2 L366.6,245.6 L362.8,246.1 L359.0,246.7 L355.2,247.3 L351.3,248.0 L347.5,248.8 L343.6,249.6 L339.7,250.5 L335.8,251.4 L332.0,252.4 L328.1,253.5 L324.2,254.6 L320.3,255.7 L316.4,256.9 L312.5,258.1 L308.6,259.4 L304.7,260.7 L300.8,262.0 L296.9,263.3 L293.1,264.6 L289.2,265.9 L285.4,267.3 L281.6,268.6 L277.8,269.9 L274.0,271.2 L270.3,272.5 L266.6,273.7 L262.9,274.9 L259.2,276.1 L255.6,277.2 L252.0,278.2 L248.5,279.2 L245.0,280.1 L241.5,280.9 L238.1,281.6 L234.7,282.2 L231.4,282.7 L228.2,283.1 L224.9,283.4Z" fill="#767676"/>
<path d="M225.3,287.7 L228.3,288.2 L231.3,288.5 L234.3,288.6 L237.4,288.7 L240.6,288.6 L243.8,288.4 L247.0,288.1 L250.3,287.7 L253.6,287.1 L257.0,286.5 L260.5,285.8 L263.9,285.0 L267.4,284.2 L271.0,283.3 L274.6,282.3 L278.2,281.3 L281.8,280.2 L285.5,279.1 L289.2,277.9 L292.9,276.7 L296.6,275.5 L300.4,274.3 L304.2,273.1 L308.0,271.9 L311.8,270.6 L315.6,269.4 L319.5,268.2 L323.3,267.0 L327.1,265.9 L331.0,264.7 L334.9,263.6 L338.7,262.5 L342.6,261.5 L346.4,260.5 L350.3,259.5 L354.1,258.6 L358.0,257.8 L361.8,256.9 L365.6,256.2 L369.5,255.5 M225.2,287.4 L228.2,287.8 L231.2,288.0 L234.3,288.1 L237.4,288.0 L240.6,287.9 L243.8,287.6 L247.1,287.2 L250.4,286.7 L253.8,286.1 L257.2,285.4 L260.7,284.7 L264.2,283.8 L267.7,282.9 L271.3,282.0 L274.9,280.9 L278.5,279.9 L282.2,278.7 L285.9,277.6 L289.6,276.4 L293.3,275.2 L297.1,274.0 L300.9,272.7 L304.7,271.5 L308.5,270.3 L312.3,269.0 L316.1,267.8 L320.0,266.6 L323.8,265.4 L327.7,264.2 L331.6,263.1 L335.4,262.0 L339.3,260.9 L343.1,259.9 L347.0,258.9 L350.9,258.0 L354.7,257.1 L358.6,256.3 L362.4,255.5 L366.2,254.8 L370.0,254.1 M225.1,287.0 L228.1,287.3 L231.2,287.4 L234.3,287.4 L237.5,287.3 L240.7,287.1 L243.9,286.7 L247.2,286.3 L250.6,285.7 L254.0,285.1 L257.4,284.3 L260.9,283.5 L264.4,282.6 L268.0,281.6 L271.6,280.6 L275.2,279.5 L278.9,278.4 L282.6,277.3 L286.3,276.1 L290.0,274.9 L293.8,273.6 L297.5,272.4 L301.3,271.2 L305.2,269.9 L309.0,268.6 L312.8,267.4 L316.7,266.2 L320.5,265.0 L324.4,263.8 L328.3,262.6 L332.1,261.5 L336.0,260.4 L339.9,259.4 L343.7,258.4 L347.6,257.4 L351.4,256.5 L355.3,255.6 L359.1,254.8 L363.0,254.1 L366.8,253.4 L370.6,252.8 M225.0,286.6 L228.1,286.8 L231.2,286.9 L234.3,286.8 L237.5,286.6 L240.7,286.3 L244.0,285.8 L247.4,285.3 L250.8,284.7 L254.2,283.9 L257.7,283.1 L261.2,282.3 L264.7,281.3 L268.3,280.3 L271.9,279.2 L275.6,278.1 L279.3,277.0 L283.0,275.8 L286.7,274.6 L290.4,273.3 L294.2,272.1 L298.0,270.8 L301.8,269.6 L305.7,268.3 L309.5,267.0 L313.3,265.8 L317.2,264.6 L321.1,263.4 L324.9,262.2 L328.8,261.0 L332.7,259.9 L336.6,258.9 L340.4,257.8 L344.3,256.8 L348.2,255.9 L352.0,255.0 L355.9,254.2 L359.7,253.4 L363.5,252.7 L367.3,252.0 L371.2,251.4 M225.0,286.1 L228.0,286.2 L231.2,286.2 L234.3,286.1 L237.6,285.8 L240.8,285.4 L244.2,284.9 L247.5,284.3 L250.9,283.6 L254.4,282.8 L257.9,281.9 L261.4,281.0 L265.0,280.0 L268.6,279.0 L272.3,277.8 L275.9,276.7 L279.6,275.5 L283.4,274.3 L287.1,273.0 L290.9,271.8 L294.7,270.5 L298.5,269.2 L302.3,267.9 L306.2,266.7 L310.0,265.4 L313.9,264.2 L317.7,262.9 L321.6,261.7 L325.5,260.6 L329.4,259.4 L333.3,258.3 L337.1,257.3 L341.0,256.3 L344.9,255.3 L348.7,254.4 L352.6,253.6 L356.4,252.8 L360.3,252.0 L364.1,251.3 L367.9,250.7 L371.7,250.2 M224.9,285.6 L228.0,285.6 L231.2,285.5 L234.4,285.3 L237.7,284.9 L241.0,284.5 L244.3,283.9 L247.7,283.2 L251.2,282.5 L254.6,281.6 L258.2,280.7 L261.7,279.7 L265.3,278.7 L269.0,277.6 L272.6,276.4 L276.3,275.2 L280.0,274.0 L283.8,272.8 L287.6,271.5 L291.4,270.2 L295.2,268.9 L299.0,267.6 L302.8,266.3 L306.7,265.0 L310.6,263.8 L314.4,262.5 L318.3,261.3 L322.2,260.1 L326.1,259.0 L329.9,257.9 L333.8,256.8 L337.7,255.7 L341.6,254.8 L345.5,253.8 L349.3,252.9 L353.2,252.1 L357.0,251.4 L360.8,250.7 L364.7,250.0 L368.5,249.4 L372.3,248.9 M224.9,285.0 L228.0,285.0 L231.2,284.8 L234.5,284.5 L237.8,284.0 L241.1,283.5 L244.5,282.9 L247.9,282.1 L251.4,281.3 L254.9,280.4 L258.4,279.4 L262.0,278.4 L265.7,277.3 L269.3,276.1 L273.0,275.0 L276.7,273.7 L280.5,272.5 L284.2,271.2 L288.0,269.9 L291.8,268.6 L295.7,267.3 L299.5,266.0 L303.4,264.7 L307.2,263.4 L311.1,262.2 L315.0,260.9 L318.9,259.7 L322.7,258.5 L326.6,257.4 L330.5,256.3 L334.4,255.2 L338.3,254.2 L342.2,253.3 L346.0,252.4 L349.9,251.5 L353.7,250.7 L357.6,250.0 L361.4,249.3 L365.2,248.7 L369.0,248.2 L372.8,247.7 M224.9,284.4 L228.1,284.3 L231.3,284.0 L234.6,283.6 L237.9,283.1 L241.3,282.5 L244.7,281.8 L248.1,281.0 L251.6,280.1 L255.2,279.1 L258.7,278.1 L262.4,277.0 L266.0,275.9 L269.7,274.7 L273.4,273.5 L277.1,272.2 L280.9,270.9 L284.7,269.6 L288.5,268.3 L292.3,267.0 L296.2,265.7 L300.0,264.4 L303.9,263.1 L307.8,261.8 L311.6,260.5 L315.5,259.3 L319.4,258.1 L323.3,256.9 L327.2,255.8 L331.1,254.7 L335.0,253.7 L338.9,252.7 L342.7,251.8 L346.6,250.9 L350.5,250.1 L354.3,249.3 L358.1,248.6 L362.0,248.0 L365.8,247.5 L369.6,247.0 L373.3,246.5 M224.9,283.7 L228.1,283.5 L231.4,283.2 L234.7,282.7 L238.0,282.1 L241.4,281.4 L244.9,280.7 L248.4,279.8 L251.9,278.9 L255.5,277.8 L259.1,276.8 L262.7,275.6 L266.4,274.5 L270.1,273.2 L273.8,272.0 L277.6,270.7 L281.3,269.4 L285.1,268.1 L289.0,266.7 L292.8,265.4 L296.7,264.1 L300.5,262.8 L304.4,261.5 L308.3,260.2 L312.2,258.9 L316.1,257.7 L320.0,256.5 L323.9,255.4 L327.8,254.3 L331.7,253.2 L335.6,252.2 L339.4,251.2 L343.3,250.3 L347.2,249.5 L351.0,248.7 L354.9,248.0 L358.7,247.3 L362.5,246.7 L366.3,246.2 L370.1,245.8 L373.9,245.4" fill="none" stroke="#e0e0e0" stroke-width="1.05" stroke-linecap="butt"/>
<path d="M226.3,273.9 L229.8,272.9 L233.4,271.9 L237.0,270.7 L240.6,269.5 L244.3,268.2 L248.0,266.9 L251.8,265.5 L255.6,264.1 L259.4,262.7 L263.2,261.3 L267.1,259.8 L271.0,258.4 L274.9,256.9 L278.8,255.5 L282.7,254.0 L286.6,252.6 L290.6,251.2 L294.5,249.9 L298.4,248.6 L302.4,247.3 L306.3,246.1 L310.3,244.9 L314.2,243.8 L318.1,242.8 L322.1,241.8 L326.0,240.9 L329.9,240.0 L333.8,239.2 L337.6,238.5 L341.5,237.9 L345.3,237.4 L349.1,236.9 L352.9,236.5 L356.7,236.2 L360.4,236.0 L364.2,235.9 L367.9,235.8 L371.6,235.8 L375.2,235.9 L378.9,236.1 L382.0,232.5 L378.5,231.7 L375.0,231.1 L371.5,230.5 L367.9,230.0 L364.4,229.5 L360.7,229.2 L357.1,229.0 L353.4,228.8 L349.7,228.8 L346.0,228.8 L342.3,228.9 L338.5,229.1 L334.7,229.4 L330.9,229.8 L327.1,230.3 L323.2,230.9 L319.3,231.6 L315.4,232.3 L311.5,233.1 L307.6,234.1 L303.6,235.0 L299.7,236.1 L295.7,237.2 L291.7,238.4 L287.7,239.7 L283.8,241.0 L279.8,242.4 L275.8,243.8 L271.8,245.3 L267.8,246.8 L263.9,248.3 L259.9,249.8 L256.0,251.4 L252.0,253.0 L248.1,254.5 L244.2,256.1 L240.4,257.6 L236.5,259.2 L232.7,260.6 L229.0,262.1Z" fill="#767676"/>
<path d="M226.4,273.3 L229.9,272.3 L233.5,271.2 L237.1,270.0 L240.8,268.8 L244.5,267.5 L248.2,266.2 L252.0,264.8 L255.8,263.4 L259.6,261.9 L263.5,260.5 L267.3,259.0 L271.2,257.6 L275.1,256.1 L279.0,254.6 L283.0,253.2 L286.9,251.8 L290.8,250.4 L294.8,249.1 L298.7,247.8 L302.7,246.5 L306.6,245.3 L310.6,244.2 L314.5,243.1 L318.4,242.0 L322.4,241.1 L326.3,240.2 L330.2,239.4 L334.0,238.6 L337.9,237.9 L341.7,237.3 L345.6,236.8 L349.4,236.4 L353.2,236.0 L356.9,235.7 L360.7,235.5 L364.4,235.4 L368.1,235.4 L371.8,235.5 L375.4,235.6 L379.1,235.8 M226.6,272.1 L230.2,271.1 L233.8,269.9 L237.4,268.7 L241.1,267.4 L244.9,266.1 L248.6,264.7 L252.4,263.3 L256.2,261.8 L260.1,260.4 L263.9,258.9 L267.8,257.4 L271.7,255.9 L275.6,254.5 L279.6,253.0 L283.5,251.6 L287.4,250.2 L291.4,248.8 L295.4,247.5 L299.3,246.2 L303.3,245.0 L307.2,243.8 L311.1,242.7 L315.1,241.6 L319.0,240.6 L322.9,239.7 L326.8,238.8 L330.7,238.1 L334.6,237.3 L338.4,236.7 L342.3,236.2 L346.1,235.7 L349.9,235.3 L353.7,235.0 L357.4,234.8 L361.2,234.7 L364.9,234.6 L368.6,234.6 L372.2,234.8 L375.9,235.0 L379.5,235.2 M226.9,270.9 L230.5,269.8 L234.1,268.6 L237.8,267.3 L241.5,266.0 L245.3,264.6 L249.0,263.2 L252.8,261.7 L256.7,260.3 L260.5,258.8 L264.4,257.3 L268.3,255.8 L272.2,254.3 L276.2,252.8 L280.1,251.4 L284.1,250.0 L288.0,248.6 L292.0,247.2 L295.9,245.9 L299.9,244.7 L303.8,243.4 L307.8,242.3 L311.7,241.2 L315.7,240.2 L319.6,239.2 L323.5,238.3 L327.4,237.5 L331.3,236.8 L335.1,236.1 L339.0,235.5 L342.8,235.1 L346.6,234.6 L350.4,234.3 L354.2,234.1 L357.9,233.9 L361.6,233.8 L365.3,233.8 L369.0,233.9 L372.6,234.1 L376.3,234.4 L379.9,234.7 M227.2,269.6 L230.8,268.4 L234.4,267.2 L238.1,265.9 L241.9,264.5 L245.7,263.1 L249.5,261.6 L253.3,260.2 L257.1,258.7 L261.0,257.2 L264.9,255.7 L268.8,254.2 L272.8,252.7 L276.7,251.2 L280.7,249.8 L284.6,248.4 L288.6,247.0 L292.5,245.6 L296.5,244.4 L300.5,243.1 L304.4,241.9 L308.4,240.8 L312.3,239.8 L316.2,238.8 L320.2,237.9 L324.1,237.0 L327.9,236.2 L331.8,235.5 L335.7,234.9 L339.5,234.4 L343.3,234.0 L347.1,233.6 L350.9,233.3 L354.7,233.1 L358.4,233.0 L362.1,233.0 L365.8,233.1 L369.4,233.2 L373.0,233.5 L376.7,233.8 L380.2,234.2 M227.5,268.3 L231.1,267.1 L234.8,265.8 L238.5,264.4 L242.3,263.0 L246.1,261.6 L249.9,260.1 L253.8,258.6 L257.6,257.1 L261.5,255.6 L265.4,254.1 L269.4,252.6 L273.3,251.1 L277.2,249.6 L281.2,248.2 L285.2,246.8 L289.1,245.4 L293.1,244.1 L297.1,242.8 L301.0,241.6 L305.0,240.5 L308.9,239.4 L312.9,238.3 L316.8,237.4 L320.7,236.5 L324.6,235.7 L328.5,235.0 L332.4,234.4 L336.2,233.8 L340.0,233.3 L343.8,232.9 L347.6,232.6 L351.4,232.4 L355.1,232.3 L358.8,232.2 L362.5,232.3 L366.2,232.4 L369.8,232.6 L373.4,232.9 L377.0,233.3 L380.6,233.8 M227.8,267.0 L231.4,265.7 L235.2,264.3 L238.9,262.9 L242.7,261.5 L246.5,260.0 L250.4,258.5 L254.2,257.0 L258.1,255.5 L262.0,254.0 L265.9,252.4 L269.9,250.9 L273.8,249.5 L277.8,248.0 L281.8,246.6 L285.7,245.2 L289.7,243.8 L293.7,242.5 L297.6,241.3 L301.6,240.1 L305.6,239.0 L309.5,237.9 L313.4,236.9 L317.4,236.0 L321.3,235.2 L325.2,234.5 L329.0,233.8 L332.9,233.2 L336.7,232.7 L340.6,232.3 L344.3,231.9 L348.1,231.7 L351.9,231.5 L355.6,231.5 L359.3,231.5 L363.0,231.6 L366.6,231.8 L370.2,232.1 L373.8,232.4 L377.4,232.9 L380.9,233.4 M228.1,265.6 L231.8,264.3 L235.5,262.9 L239.3,261.5 L243.1,260.0 L247.0,258.5 L250.8,257.0 L254.7,255.4 L258.6,253.9 L262.5,252.4 L266.5,250.8 L270.4,249.3 L274.4,247.8 L278.4,246.4 L282.3,245.0 L286.3,243.6 L290.3,242.3 L294.3,241.0 L298.2,239.8 L302.2,238.6 L306.1,237.5 L310.1,236.5 L314.0,235.6 L317.9,234.7 L321.8,233.9 L325.7,233.2 L329.6,232.6 L333.4,232.1 L337.3,231.6 L341.1,231.3 L344.8,231.0 L348.6,230.8 L352.3,230.7 L356.0,230.7 L359.7,230.8 L363.4,230.9 L367.0,231.2 L370.6,231.5 L374.2,232.0 L377.7,232.5 L381.3,233.1 M228.4,264.2 L232.2,262.8 L235.9,261.4 L239.7,259.9 L243.6,258.4 L247.4,256.9 L251.3,255.4 L255.2,253.8 L259.1,252.3 L263.1,250.7 L267.0,249.2 L271.0,247.7 L274.9,246.2 L278.9,244.8 L282.9,243.4 L286.9,242.0 L290.9,240.7 L294.8,239.5 L298.8,238.3 L302.8,237.2 L306.7,236.1 L310.7,235.2 L314.6,234.3 L318.5,233.4 L322.4,232.7 L326.3,232.0 L330.1,231.5 L334.0,231.0 L337.8,230.6 L341.6,230.3 L345.3,230.1 L349.1,229.9 L352.8,229.9 L356.5,230.0 L360.1,230.1 L363.8,230.3 L367.4,230.7 L371.0,231.1 L374.5,231.6 L378.1,232.1 L381.6,232.8 M228.8,262.8 L232.5,261.4 L236.3,259.9 L240.2,258.4 L244.0,256.9 L247.9,255.3 L251.8,253.8 L255.7,252.2 L259.6,250.7 L263.6,249.1 L267.5,247.6 L271.5,246.1 L275.5,244.6 L279.5,243.2 L283.5,241.8 L287.5,240.5 L291.4,239.2 L295.4,238.0 L299.4,236.8 L303.3,235.8 L307.3,234.7 L311.2,233.8 L315.1,233.0 L319.0,232.2 L322.9,231.5 L326.8,230.9 L330.6,230.4 L334.5,229.9 L338.3,229.6 L342.0,229.4 L345.8,229.2 L349.5,229.1 L353.2,229.2 L356.9,229.3 L360.6,229.5 L364.2,229.8 L367.8,230.2 L371.3,230.6 L374.9,231.2 L378.4,231.9 L381.9,232.6" fill="none" stroke="#e0e0e0" stroke-width="1.05" stroke-linecap="butt"/>
<path d="M233.4,246.7 L237.3,245.0 L241.3,243.4 L245.3,241.7 L249.3,240.1 L253.3,238.5 L257.4,236.9 L261.4,235.4 L265.4,233.9 L269.4,232.5 L273.5,231.2 L277.5,229.9 L281.5,228.7 L285.5,227.6 L289.5,226.6 L293.4,225.6 L297.4,224.7 L301.3,224.0 L305.2,223.3 L309.1,222.7 L312.9,222.3 L316.8,221.9 L320.6,221.6 L324.4,221.5 L328.1,221.4 L331.8,221.4 L335.5,221.6 L339.2,221.8 L342.8,222.2 L346.4,222.6 L350.0,223.1 L353.5,223.8 L357.0,224.5 L360.5,225.3 L363.9,226.3 L367.3,227.3 L370.7,228.4 L348.8,221.4 L345.4,220.3 L342.0,219.3 L338.5,218.4 L335.0,217.6 L331.5,216.9 L327.9,216.3 L324.3,215.9 L320.7,215.5 L317.0,215.2 L313.3,215.1 L309.6,215.1 L305.8,215.2 L302.0,215.4 L298.1,215.7 L294.3,216.1 L290.4,216.6 L286.5,217.3 L282.5,218.0 L278.6,218.9 L274.6,219.8 L270.6,220.9 L266.6,222.0 L262.5,223.2 L258.5,224.6 L254.4,226.0 L250.4,227.4 L246.3,228.9 L242.2,230.5 L238.2,232.2Z" fill="#767676"/>
<path d="M233.6,245.9 L237.6,244.2 L241.6,242.6 L245.6,240.9 L249.6,239.3 L253.6,237.7 L257.6,236.1 L261.7,234.6 L265.7,233.2 L269.7,231.8 L273.8,230.4 L277.8,229.2 L281.8,228.0 L285.8,226.9 L289.7,225.9 L293.7,225.0 L297.6,224.1 L301.6,223.4 L305.5,222.8 L309.3,222.2 L313.2,221.8 L317.0,221.4 L320.8,221.2 L324.6,221.1 L328.3,221.0 L332.0,221.1 L335.7,221.3 L339.4,221.6 L343.0,221.9 L346.6,222.4 L350.1,223.0 L353.6,223.7 L357.1,224.4 L360.6,225.3 L364.0,226.3 L367.4,227.3 L370.8,228.4 M234.1,244.3 L238.1,242.6 L242.1,240.9 L246.1,239.3 L250.1,237.7 L254.2,236.1 L258.2,234.5 L262.2,233.1 L266.3,231.6 L270.3,230.3 L274.3,229.0 L278.3,227.8 L282.3,226.6 L286.3,225.6 L290.3,224.6 L294.3,223.7 L298.2,223.0 L302.1,222.3 L306.0,221.7 L309.8,221.2 L313.7,220.8 L317.5,220.6 L321.3,220.4 L325.0,220.3 L328.7,220.4 L332.4,220.5 L336.1,220.7 L339.7,221.1 L343.3,221.5 L346.9,222.1 L350.4,222.7 L353.9,223.5 L357.4,224.3 L360.8,225.3 L364.2,226.3 L367.6,227.4 M234.6,242.7 L238.6,241.0 L242.6,239.3 L246.7,237.7 L250.7,236.1 L254.7,234.5 L258.8,233.0 L262.8,231.5 L266.9,230.1 L270.9,228.8 L274.9,227.5 L278.9,226.4 L282.9,225.3 L286.9,224.3 L290.9,223.4 L294.8,222.5 L298.7,221.8 L302.6,221.2 L306.5,220.7 L310.3,220.3 L314.2,219.9 L318.0,219.7 L321.7,219.6 L325.5,219.6 L329.2,219.7 L332.8,219.9 L336.5,220.3 L340.1,220.7 L343.7,221.2 L347.2,221.8 L350.7,222.5 L354.2,223.4 L357.6,224.3 L361.0,225.3 L364.4,226.4 M235.2,241.1 L239.2,239.4 L243.2,237.7 L247.2,236.1 L251.3,234.5 L255.3,232.9 L259.4,231.4 L263.4,230.0 L267.4,228.6 L271.5,227.3 L275.5,226.1 L279.5,225.0 L283.5,223.9 L287.4,223.0 L291.4,222.1 L295.3,221.4 L299.2,220.7 L303.1,220.1 L307.0,219.7 L310.8,219.3 L314.6,219.1 L318.4,218.9 L322.2,218.9 L325.9,219.0 L329.6,219.2 L333.2,219.4 L336.8,219.8 L340.4,220.3 L344.0,220.9 L347.5,221.6 L351.0,222.4 L354.4,223.3 L357.9,224.3 L361.2,225.3 M235.7,239.4 L239.7,237.7 L243.7,236.1 L247.8,234.5 L251.8,232.9 L255.9,231.4 L259.9,229.9 L264.0,228.5 L268.0,227.2 L272.0,225.9 L276.1,224.7 L280.1,223.6 L284.0,222.7 L288.0,221.8 L291.9,220.9 L295.9,220.2 L299.8,219.6 L303.6,219.1 L307.5,218.7 L311.3,218.5 L315.1,218.3 L318.9,218.2 L322.6,218.2 L326.3,218.4 L329.9,218.6 L333.6,219.0 L337.2,219.4 L340.7,220.0 L344.3,220.7 L347.8,221.4 L351.2,222.3 L354.7,223.3 L358.1,224.3 M236.2,237.8 L240.3,236.1 L244.3,234.5 L248.4,232.9 L252.4,231.3 L256.5,229.8 L260.5,228.4 L264.6,227.0 L268.6,225.7 L272.6,224.5 L276.6,223.4 L280.6,222.3 L284.6,221.4 L288.5,220.5 L292.5,219.8 L296.4,219.2 L300.3,218.6 L304.1,218.2 L308.0,217.8 L311.8,217.6 L315.5,217.5 L319.3,217.5 L323.0,217.6 L326.7,217.8 L330.3,218.2 L333.9,218.6 L337.5,219.1 L341.0,219.8 L344.5,220.5 L348.0,221.3 L351.5,222.3 L354.9,223.3 L358.2,224.4 M236.8,236.2 L240.8,234.5 L244.9,232.9 L248.9,231.3 L253.0,229.8 L257.0,228.3 L261.1,226.9 L265.1,225.6 L269.2,224.3 L273.2,223.1 L277.2,222.0 L281.2,221.1 L285.1,220.2 L289.1,219.4 L293.0,218.7 L296.9,218.1 L300.8,217.6 L304.6,217.3 L308.4,217.0 L312.2,216.8 L316.0,216.8 L319.7,216.9 L323.4,217.1 L327.0,217.3 L330.7,217.7 L334.3,218.2 L337.8,218.8 L341.3,219.6 L344.8,220.4 L348.3,221.3 L351.7,222.3 L355.1,223.4 M237.3,234.6 L241.4,232.9 L245.4,231.3 L249.5,229.7 L253.6,228.2 L257.6,226.8 L261.7,225.4 L265.7,224.1 L269.7,222.9 L273.7,221.8 L277.7,220.8 L281.7,219.8 L285.7,219.0 L289.6,218.3 L293.5,217.6 L297.4,217.1 L301.3,216.7 L305.1,216.4 L308.9,216.2 L312.7,216.1 L316.4,216.1 L320.1,216.3 L323.8,216.5 L327.4,216.9 L331.0,217.4 L334.6,217.9 L338.1,218.6 L341.6,219.4 L345.1,220.3 L348.5,221.3 L351.9,222.4 M237.9,233.0 L241.9,231.3 L246.0,229.7 L250.1,228.2 L254.1,226.7 L258.2,225.3 L262.2,224.0 L266.3,222.7 L270.3,221.5 L274.3,220.5 L278.3,219.5 L282.3,218.6 L286.2,217.8 L290.1,217.2 L294.0,216.6 L297.9,216.1 L301.7,215.8 L305.6,215.6 L309.3,215.4 L313.1,215.4 L316.8,215.5 L320.5,215.7 L324.1,216.1 L327.7,216.5 L331.3,217.1 L334.9,217.7 L338.4,218.5 L341.9,219.3 L345.3,220.3 L348.7,221.3" fill="none" stroke="#e0e0e0" stroke-width="1.05" stroke-linecap="butt"/>
<path d="M243.9,217.0 L247.9,215.7 L252.0,214.5 L256.0,213.4 L260.1,212.4 L264.1,211.5 L268.0,210.7 L272.0,210.0 L275.9,209.4 L279.8,209.0 L283.6,208.7 L287.4,208.5 L291.2,208.4 L295.0,208.5 L298.7,208.7 L302.4,209.0 L306.0,209.4 L309.6,210.0 L313.1,210.6 L316.7,211.4 L320.1,212.3 L323.6,213.3 L327.0,214.5 L304.9,207.4 L301.4,206.3 L297.9,205.4 L294.4,204.6 L290.8,204.0 L287.2,203.5 L283.6,203.1 L279.9,202.8 L276.1,202.7 L272.3,202.7 L268.5,202.8 L264.6,203.1 L260.7,203.5 L256.8,204.1 L252.9,204.7 L248.9,205.5Z" fill="#767676"/>
<path d="M244.2,216.3 L248.2,215.0 L252.3,213.8 L256.3,212.7 L260.3,211.8 L264.3,210.9 L268.3,210.1 L272.2,209.5 L276.1,209.0 L280.0,208.6 L283.9,208.3 L287.7,208.1 L291.4,208.1 L295.2,208.2 L298.9,208.4 L302.5,208.8 L306.2,209.2 L309.7,209.8 L313.3,210.5 L316.8,211.4 L320.3,212.3 L323.7,213.4 M244.7,214.9 L248.8,213.7 L252.8,212.6 L256.9,211.5 L260.9,210.6 L264.9,209.8 L268.8,209.1 L272.7,208.5 L276.6,208.1 L280.5,207.7 L284.3,207.5 L288.1,207.4 L291.8,207.5 L295.6,207.7 L299.2,208.0 L302.9,208.4 L306.5,208.9 L310.0,209.6 L313.6,210.4 L317.0,211.3 L320.5,212.3 L323.9,213.5 M245.3,213.6 L249.4,212.4 L253.4,211.3 L257.4,210.3 L261.4,209.5 L265.4,208.7 L269.3,208.1 L273.2,207.6 L277.1,207.2 L280.9,206.9 L284.7,206.8 L288.5,206.8 L292.2,206.9 L295.9,207.2 L299.6,207.6 L303.2,208.1 L306.8,208.7 L310.3,209.5 L313.8,210.3 L317.3,211.3 L320.7,212.4 M245.9,212.2 L249.9,211.1 L253.9,210.1 L257.9,209.2 L261.9,208.4 L265.9,207.7 L269.8,207.1 L273.7,206.7 L277.6,206.4 L281.4,206.2 L285.2,206.2 L288.9,206.2 L292.6,206.4 L296.3,206.8 L299.9,207.2 L303.5,207.8 L307.1,208.5 L310.6,209.4 L314.0,210.3 L317.5,211.4 M246.4,210.9 L250.5,209.9 L254.5,208.9 L258.5,208.0 L262.4,207.3 L266.4,206.7 L270.3,206.2 L274.2,205.9 L278.0,205.6 L281.8,205.5 L285.6,205.5 L289.3,205.7 L293.0,206.0 L296.6,206.4 L300.2,206.9 L303.8,207.6 L307.3,208.4 L310.8,209.3 L314.2,210.3 L317.6,211.5 M247.0,209.7 L251.0,208.7 L255.0,207.8 L259.0,207.0 L263.0,206.3 L266.9,205.8 L270.8,205.3 L274.6,205.1 L278.4,204.9 L282.2,204.9 L286.0,205.0 L289.7,205.2 L293.3,205.6 L296.9,206.1 L300.5,206.7 L304.1,207.5 L307.6,208.3 L311.0,209.3 L314.4,210.4 M247.5,208.5 L251.5,207.5 L255.5,206.6 L259.5,205.9 L263.4,205.3 L267.4,204.9 L271.2,204.5 L275.1,204.3 L278.9,204.2 L282.6,204.3 L286.3,204.5 L290.0,204.8 L293.7,205.3 L297.3,205.8 L300.8,206.5 L304.3,207.4 L307.8,208.3 L311.2,209.4 M248.1,207.3 L252.1,206.4 L256.1,205.6 L260.0,204.9 L263.9,204.4 L267.8,204.0 L271.7,203.8 L275.5,203.6 L279.3,203.6 L283.0,203.8 L286.7,204.0 L290.4,204.4 L294.0,205.0 L297.5,205.6 L301.1,206.4 L304.6,207.3 L308.0,208.4 M248.6,206.1 L252.6,205.3 L256.6,204.6 L260.5,204.0 L264.4,203.5 L268.3,203.2 L272.1,203.0 L275.9,203.0 L279.7,203.1 L283.4,203.3 L287.0,203.6 L290.7,204.1 L294.3,204.7 L297.8,205.5 L301.3,206.3 L304.8,207.3 L308.2,208.5" fill="none" stroke="#e0e0e0" stroke-width="1.05" stroke-linecap="butt"/>
<path d="M253.6,196.6 L257.5,196.6 L261.2,196.7 L264.9,196.9 L268.6,197.3 L272.2,197.9 L275.8,198.6 L279.4,199.4 L282.8,200.3 L286.3,201.4 L267.4,195.4 L264.0,194.4 L260.4,193.5 L256.9,192.7Z" fill="#767676"/>
<path d="M253.9,196.3 L257.6,196.3 L261.4,196.4 L265.1,196.7 L268.8,197.2 L272.4,197.8 L276.0,198.5 L279.5,199.4 L283.0,200.4 L286.4,201.5 M254.3,195.7 L258.0,195.7 L261.8,196.0 L265.4,196.4 L269.1,196.9 L272.7,197.6 L276.2,198.4 L279.7,199.3 L283.1,200.4 M254.7,195.1 L258.4,195.3 L262.1,195.6 L265.8,196.1 L269.4,196.7 L272.9,197.4 L276.4,198.4 L279.9,199.4 M255.0,194.6 L258.8,194.8 L262.4,195.3 L266.1,195.8 L269.6,196.5 L273.2,197.4 L276.7,198.4 L280.1,199.5 M255.4,194.1 L259.1,194.5 L262.8,195.0 L266.4,195.6 L269.9,196.4 L273.4,197.4 L276.9,198.4 M255.8,193.7 L259.4,194.1 L263.0,194.7 L266.6,195.5 L270.1,196.4 L273.6,197.4 M256.1,193.4 L259.7,193.9 L263.3,194.6 L266.9,195.4 L270.4,196.4 L273.8,197.5 M256.4,193.1 L260.0,193.7 L263.6,194.4 L267.1,195.4 L270.6,196.4 M256.7,192.8 L260.3,193.5 L263.8,194.4 L267.3,195.4 L270.8,196.5" fill="none" stroke="#e0e0e0" stroke-width="1.05" stroke-linecap="butt"/>
<path d="M262.0,196.0 L300.0,207.0 L359.5,227.0 L359.0,235.0 L352.0,240.0 L346.0,252.0 L342.0,268.0 L336.0,280.0 L331.0,298.0 L333.0,314.0 L334.0,322.0 L327.0,322.0 L300.0,311.0 L270.0,300.0 L231.0,290.0 L232.0,278.0 L236.0,260.0 L241.0,242.0 L247.0,223.0 L255.0,205.0Z" fill="url(#gBrSh)"/>
<path d="M263,193.8 C255,205 247,223 241,242 C236,260 231.5,280 230.7,290" fill="none" stroke="#000" stroke-opacity="0.45" stroke-width="7" filter="url(#blur3)"/>
</g>
<path d="M165.8,157.5 L263,190 L263,193.8 C255,205 247,223 241,242 C236,260 231.5,280 230.7,290 L230.7,298 L130.5,266 C133,248 139,226 145,207 C150,190 158,170 165.8,157.5 Z" fill="url(#gLS)"/>
<path d="M165.8,157.5 L263,190 L263,193.8 C255,205 247,223 241,242 C236,260 231.5,280 230.7,290 L230.7,298 L130.5,266 C133,248 139,226 145,207 C150,190 158,170 165.8,157.5 Z" fill="url(#gLSh)"/>
<g clip-path="url(#cLS)"><path d="M166,156 C158,170 151,188 146,205" fill="none" stroke="#000" stroke-opacity="0.26" stroke-width="16" filter="url(#blurLS)"/></g>
<path d="M261.6,192.5 C254,204 246,222 240,241 C237,252 234.5,262 233,272" fill="none" stroke="url(#gRim)" stroke-width="2.6"/>
<path d="M165,156.5 C157.5,169.5 149.5,189.5 144.5,206.5 C138.5,225.5 132.5,247.5 130.2,266" fill="none" stroke="url(#gRimP)" stroke-width="1.8"/>
<rect x="206.45" y="122.3" width="3.3" height="54.0" fill="#000"/>
<rect x="415.25" y="163.8" width="3.3" height="95.7" fill="#000"/>
<rect x="592.35" y="224.0" width="3.3" height="95.5" fill="#000"/>
<rect x="80.95" y="247.7" width="3.3" height="72.0" fill="#000"/>
<rect x="268.85" y="296.0" width="3.3" height="56.5" fill="#000"/>
<rect x="498.55" y="352.6" width="3.3" height="62.2" fill="#000"/>
<g font-family="'Liberation Sans', sans-serif" fill="#000" stroke="#000" stroke-width="0.45" opacity="0.995">
<text x="147.62" y="115.8" font-size="27" textLength="60.97" lengthAdjust="spacingAndGlyphs">LSZH</text>
<text x="216.00" y="115.8" font-size="27" textLength="76.05" lengthAdjust="spacingAndGlyphs">Jacket</text>
<text x="368.26" y="111.0" font-size="27" textLength="132.01" lengthAdjust="spacingAndGlyphs">Aluminum</text>
<text x="371.20" y="148.2" font-size="27" textLength="43.60" lengthAdjust="spacingAndGlyphs">Foil</text>
<text x="424.42" y="148.2" font-size="27" textLength="74.75" lengthAdjust="spacingAndGlyphs">shield</text>
<text x="532.10" y="212.2" font-size="27" textLength="132.32" lengthAdjust="spacingAndGlyphs">Conductor</text>
<text x="34.10" y="342.2" font-size="27" textLength="28.80" lengthAdjust="spacingAndGlyphs">PE</text>
<text x="71.58" y="342.2" font-size="27" textLength="75.26" lengthAdjust="spacingAndGlyphs">Jacket</text>
<text x="203.52" y="380.5" font-size="27" textLength="133.49" lengthAdjust="spacingAndGlyphs">Aluminum</text>
<text x="196.20" y="417.4" font-size="27" textLength="148.44" lengthAdjust="spacingAndGlyphs">Magnesium</text>
<text x="238.41" y="455.5" font-size="27" textLength="64.97" lengthAdjust="spacingAndGlyphs">Braid</text>
<text x="431.30" y="440.3" font-size="27" textLength="125.34" lengthAdjust="spacingAndGlyphs">Insulation</text>
</g>
</svg>
</body></html>
